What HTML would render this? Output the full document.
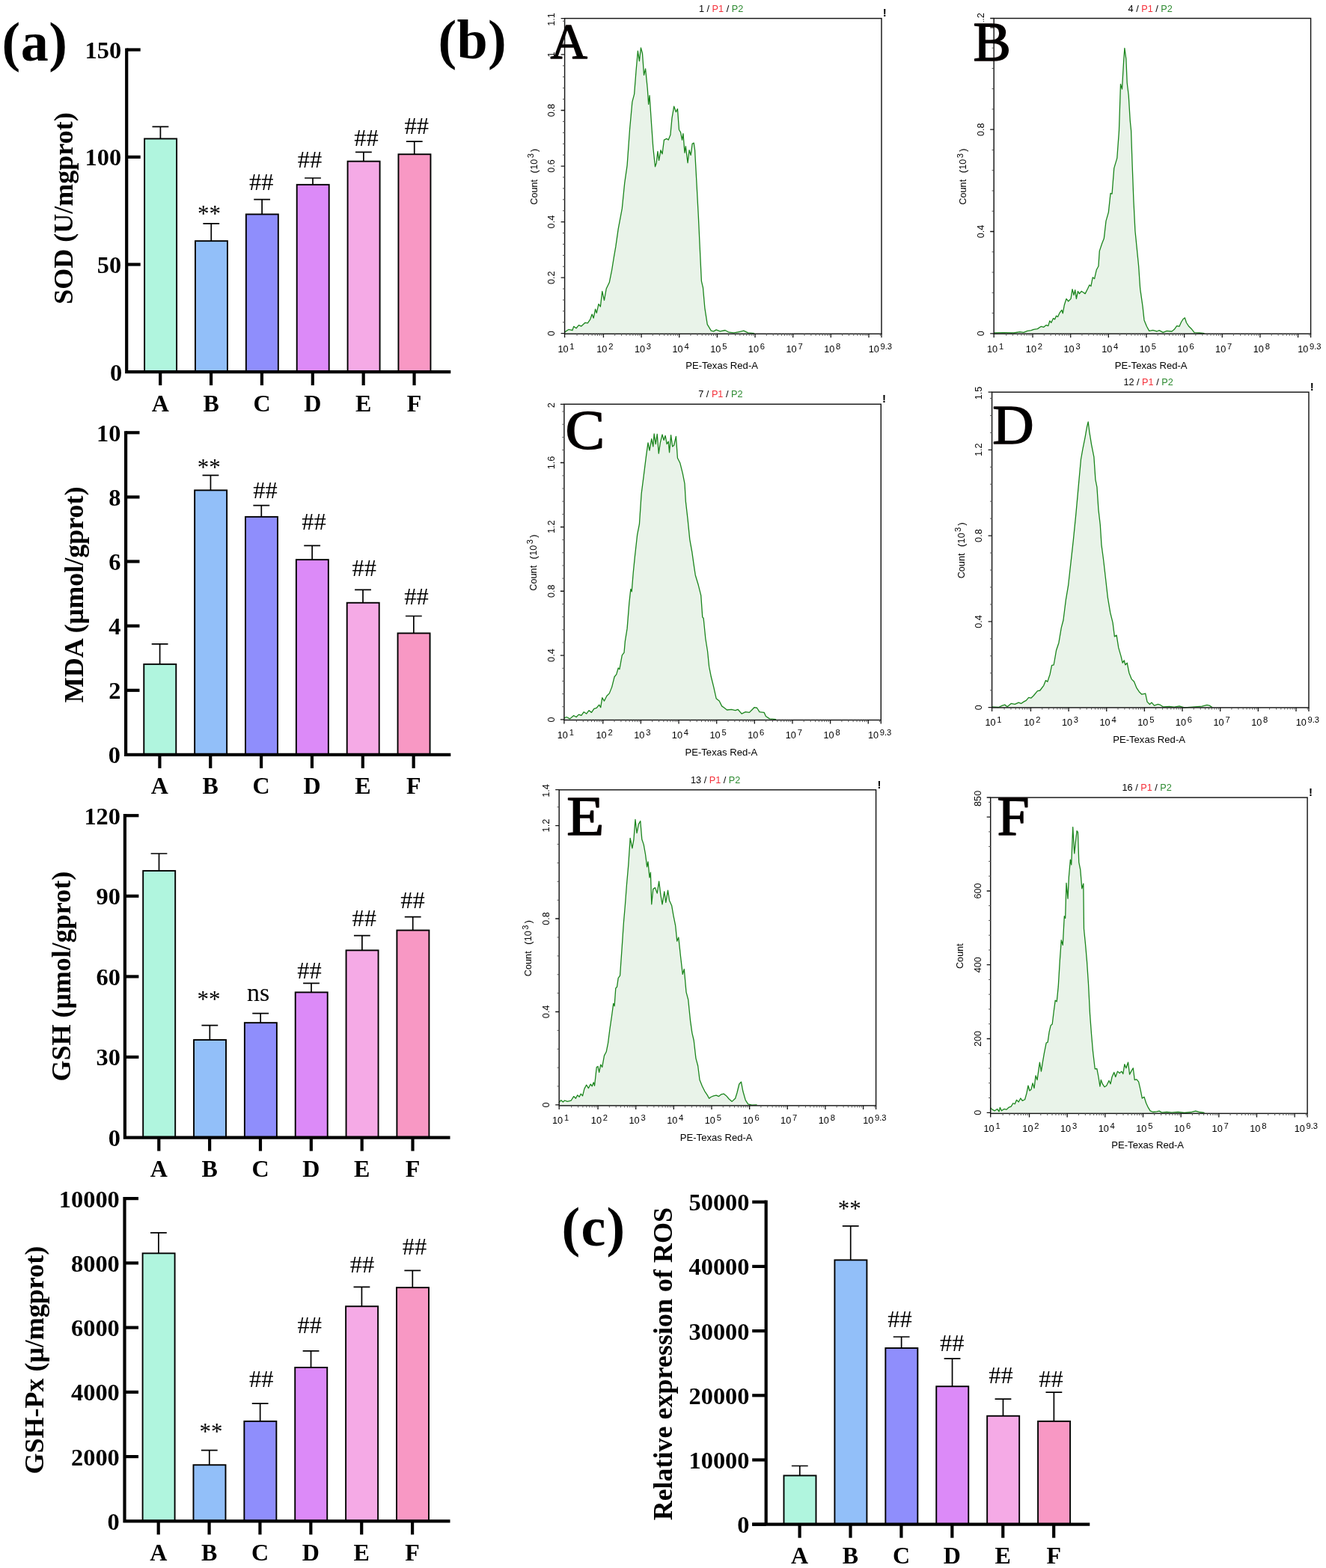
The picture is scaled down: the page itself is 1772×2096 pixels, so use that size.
<!DOCTYPE html>
<html lang="en"><head><meta charset="utf-8"><title>Figure</title>
<style>html,body{margin:0;padding:0;background:#fff}body{width:1772px;height:2096px;overflow:hidden}svg{display:block}text{fill:#000}</style>
</head><body>
<svg width="1772" height="2096" viewBox="0 0 1772 2096">
<rect width="1772" height="2096" fill="#fff"/>
<g><path d="M754.76 446.3 L754.76 443.88 L759.86 440.48 L764.97 441.5 L766.67 436.39 L770.07 438.78 L773.47 434.69 L776.87 436.05 L781.97 431.29 L785.37 431.97 L788.78 426.87 L791.16 420.07 L793.2 425.17 L795.58 413.27 L797.28 418.37 L800 406.46 L802.38 409.86 L804.76 389.46 L807.48 401.36 L810.2 386.05 L814.29 377.55 L817.69 360.54 L820.41 343.54 L822.79 329.93 L826.19 306.12 L831.29 278.91 L834.69 244.9 L838.1 221.09 L841.5 173.47 L844.9 136.05 L847.62 125.85 L850 95.24 L852.38 68.03 L854.42 81.63 L856.46 63.95 L858.5 71.43 L860.54 100.34 L862.59 91.84 L865.31 119.05 L866.67 139.46 L868.03 127.55 L870.41 163.27 L872.79 197.28 L875.51 222.79 L877.21 217.69 L878.91 202.38 L880.61 214.29 L882.99 200.68 L885.03 205.78 L887.41 187.07 L890.82 185.37 L893.2 187.07 L895.92 180.27 L897.96 158.16 L900.68 142.18 L903.4 149.66 L905.44 145.58 L907.48 173.47 L909.52 176.87 L911.56 187.07 L912.93 178.57 L914.97 204.08 L916.33 195.58 L919.05 217.69 L921.09 200.68 L923.13 207.48 L925.17 192.18 L927.21 191.16 L928.57 200.68 L930.61 238.1 L933.33 289.12 L935.37 333.33 L937.41 375.85 L939.46 384.35 L941.84 411.56 L945.24 433.67 L950.34 442.18 L953.74 442.86 L957.14 440.82 L962.24 442.86 L969.05 441.5 L974.15 444.22 L980.95 444.9 L987.76 443.54 L993.88 442.18 L999.66 444.9 L1008.16 445.58 L1008.16 446.3Z" fill="#e9f3e9" stroke="none"/>
<path d="M754.76 443.88 L759.86 440.48 L764.97 441.5 L766.67 436.39 L770.07 438.78 L773.47 434.69 L776.87 436.05 L781.97 431.29 L785.37 431.97 L788.78 426.87 L791.16 420.07 L793.2 425.17 L795.58 413.27 L797.28 418.37 L800 406.46 L802.38 409.86 L804.76 389.46 L807.48 401.36 L810.2 386.05 L814.29 377.55 L817.69 360.54 L820.41 343.54 L822.79 329.93 L826.19 306.12 L831.29 278.91 L834.69 244.9 L838.1 221.09 L841.5 173.47 L844.9 136.05 L847.62 125.85 L850 95.24 L852.38 68.03 L854.42 81.63 L856.46 63.95 L858.5 71.43 L860.54 100.34 L862.59 91.84 L865.31 119.05 L866.67 139.46 L868.03 127.55 L870.41 163.27 L872.79 197.28 L875.51 222.79 L877.21 217.69 L878.91 202.38 L880.61 214.29 L882.99 200.68 L885.03 205.78 L887.41 187.07 L890.82 185.37 L893.2 187.07 L895.92 180.27 L897.96 158.16 L900.68 142.18 L903.4 149.66 L905.44 145.58 L907.48 173.47 L909.52 176.87 L911.56 187.07 L912.93 178.57 L914.97 204.08 L916.33 195.58 L919.05 217.69 L921.09 200.68 L923.13 207.48 L925.17 192.18 L927.21 191.16 L928.57 200.68 L930.61 238.1 L933.33 289.12 L935.37 333.33 L937.41 375.85 L939.46 384.35 L941.84 411.56 L945.24 433.67 L950.34 442.18 L953.74 442.86 L957.14 440.82 L962.24 442.86 L969.05 441.5 L974.15 444.22 L980.95 444.9 L987.76 443.54 L993.88 442.18 L999.66 444.9 L1008.16 445.58" fill="none" stroke="#1b851d" stroke-width="1.3" stroke-linejoin="round"/>
<rect x="754.6" y="24.6" width="423.4" height="421.7" fill="none" stroke="#161616" stroke-width="1.45"/>
<text x="745.4" y="470.7" font-family='"Liberation Sans", "DejaVu Sans", sans-serif' font-size="12.7" fill="#4c4c4c">10<tspan dy="-4.1" dx="1.8" font-size="11.2">1</tspan></text>
<text x="797.25" y="470.7" font-family='"Liberation Sans", "DejaVu Sans", sans-serif' font-size="12.7" fill="#4c4c4c">10<tspan dy="-4.1" dx="1.8" font-size="11.2">2</tspan></text>
<text x="847.9" y="470.7" font-family='"Liberation Sans", "DejaVu Sans", sans-serif' font-size="12.7" fill="#4c4c4c">10<tspan dy="-4.1" dx="1.8" font-size="11.2">3</tspan></text>
<text x="898.55" y="470.7" font-family='"Liberation Sans", "DejaVu Sans", sans-serif' font-size="12.7" fill="#4c4c4c">10<tspan dy="-4.1" dx="1.8" font-size="11.2">4</tspan></text>
<text x="949.2" y="470.7" font-family='"Liberation Sans", "DejaVu Sans", sans-serif' font-size="12.7" fill="#4c4c4c">10<tspan dy="-4.1" dx="1.8" font-size="11.2">5</tspan></text>
<text x="999.85" y="470.7" font-family='"Liberation Sans", "DejaVu Sans", sans-serif' font-size="12.7" fill="#4c4c4c">10<tspan dy="-4.1" dx="1.8" font-size="11.2">6</tspan></text>
<text x="1050.5" y="470.7" font-family='"Liberation Sans", "DejaVu Sans", sans-serif' font-size="12.7" fill="#4c4c4c">10<tspan dy="-4.1" dx="1.8" font-size="11.2">7</tspan></text>
<text x="1101.15" y="470.7" font-family='"Liberation Sans", "DejaVu Sans", sans-serif' font-size="12.7" fill="#4c4c4c">10<tspan dy="-4.1" dx="1.8" font-size="11.2">8</tspan></text>
<text x="1160.7" y="470.7" font-family='"Liberation Sans", "DejaVu Sans", sans-serif' font-size="12.7" fill="#4c4c4c">10<tspan dy="-4.1" dx="1.6" font-size="11.2">9.3</tspan></text>
<text transform="translate(741.4 26) rotate(-90)" text-anchor="middle" font-family='"Liberation Sans", "DejaVu Sans", sans-serif' font-size="12.7" fill="#4c4c4c">1.1</text>
<text transform="translate(741.4 72.95) rotate(-90)" text-anchor="middle" font-family='"Liberation Sans", "DejaVu Sans", sans-serif' font-size="12.7" fill="#4c4c4c">1</text>
<text transform="translate(741.4 147.5) rotate(-90)" text-anchor="middle" font-family='"Liberation Sans", "DejaVu Sans", sans-serif' font-size="12.7" fill="#4c4c4c">0.8</text>
<text transform="translate(741.4 222.05) rotate(-90)" text-anchor="middle" font-family='"Liberation Sans", "DejaVu Sans", sans-serif' font-size="12.7" fill="#4c4c4c">0.6</text>
<text transform="translate(741.4 296.6) rotate(-90)" text-anchor="middle" font-family='"Liberation Sans", "DejaVu Sans", sans-serif' font-size="12.7" fill="#4c4c4c">0.4</text>
<text transform="translate(741.4 371.15) rotate(-90)" text-anchor="middle" font-family='"Liberation Sans", "DejaVu Sans", sans-serif' font-size="12.7" fill="#4c4c4c">0.2</text>
<text transform="translate(741.4 445.7) rotate(-90)" text-anchor="middle" font-family='"Liberation Sans", "DejaVu Sans", sans-serif' font-size="12.7" fill="#4c4c4c">0</text>
<path d="M754.6 446.3v5M806.45 446.3v5M857.1 446.3v5M907.75 446.3v5M958.4 446.3v5M1009.05 446.3v5M1059.7 446.3v5M1110.35 446.3v5M1161 446.3v5M1178 446.3v5M754.6 24.6h-5M754.6 72.95h-5M754.6 147.5h-5M754.6 222.05h-5M754.6 296.6h-5M754.6 371.15h-5M754.6 445.7h-5M754.6 371.15h-5M754.6 296.6h-5M754.6 222.05h-5M754.6 147.5h-5M754.6 72.95h-5" stroke="#161616" stroke-width="1.3" fill="none"/>
<path d="M771.05 446.3v2.6M779.97 446.3v2.6M786.29 446.3v2.6M791.2 446.3v2.6M795.21 446.3v2.6M798.6 446.3v2.6M801.54 446.3v2.6M804.13 446.3v2.6M821.7 446.3v2.6M830.62 446.3v2.6M836.94 446.3v2.6M841.85 446.3v2.6M845.86 446.3v2.6M849.25 446.3v2.6M852.19 446.3v2.6M854.78 446.3v2.6M872.35 446.3v2.6M881.27 446.3v2.6M887.59 446.3v2.6M892.5 446.3v2.6M896.51 446.3v2.6M899.9 446.3v2.6M902.84 446.3v2.6M905.43 446.3v2.6M923 446.3v2.6M931.92 446.3v2.6M938.24 446.3v2.6M943.15 446.3v2.6M947.16 446.3v2.6M950.55 446.3v2.6M953.49 446.3v2.6M956.08 446.3v2.6M973.65 446.3v2.6M982.57 446.3v2.6M988.89 446.3v2.6M993.8 446.3v2.6M997.81 446.3v2.6M1001.2 446.3v2.6M1004.14 446.3v2.6M1006.73 446.3v2.6M1024.3 446.3v2.6M1033.22 446.3v2.6M1039.54 446.3v2.6M1044.45 446.3v2.6M1048.46 446.3v2.6M1051.85 446.3v2.6M1054.79 446.3v2.6M1057.38 446.3v2.6M1074.95 446.3v2.6M1083.87 446.3v2.6M1090.19 446.3v2.6M1095.1 446.3v2.6M1099.11 446.3v2.6M1102.5 446.3v2.6M1105.44 446.3v2.6M1108.03 446.3v2.6M1125.6 446.3v2.6M1134.52 446.3v2.6M1140.84 446.3v2.6M1145.75 446.3v2.6M1149.76 446.3v2.6M1153.15 446.3v2.6M1156.09 446.3v2.6M1158.68 446.3v2.6M1176.25 446.3v2.6M754.6 430.79h-2.6M754.6 415.88h-2.6M754.6 400.97h-2.6M754.6 386.06h-2.6M754.6 356.24h-2.6M754.6 341.33h-2.6M754.6 326.42h-2.6M754.6 311.51h-2.6M754.6 281.69h-2.6M754.6 266.78h-2.6M754.6 251.87h-2.6M754.6 236.96h-2.6M754.6 207.14h-2.6M754.6 192.23h-2.6M754.6 177.32h-2.6M754.6 162.41h-2.6M754.6 132.59h-2.6M754.6 117.68h-2.6M754.6 102.77h-2.6M754.6 87.86h-2.6M754.6 58.04h-2.6M754.6 43.13h-2.6M754.6 28.22h-2.6" stroke="#555" stroke-width="1" fill="none"/>
<text x="964.6" y="493.3" text-anchor="middle" font-family='"Liberation Sans", "DejaVu Sans", sans-serif' font-size="13.1" fill="#4c4c4c">PE-Texas Red-A</text>
<text transform="translate(717.8 273.75) rotate(-90)" font-family='"Liberation Sans", "DejaVu Sans", sans-serif' font-size="12.7" fill="#4c4c4c">Count <tspan dx="4.9">(</tspan><tspan dx="0.4">10</tspan><tspan dy="-4.7" dx="1.35" font-size="11.2">3</tspan><tspan dy="4.7" dx="2.25">)</tspan></text>
<text x="963.6" y="15.6" text-anchor="middle" font-family='"Liberation Sans", "DejaVu Sans", sans-serif' font-size="12.7" fill="#4c4c4c">1 / <tspan fill="#f5303a">P1</tspan> / <tspan fill="#2e8b32">P2</tspan></text>
<text x="1182.3" y="22.3" text-anchor="middle" font-family='"Liberation Sans", "DejaVu Sans", sans-serif' font-weight="bold" font-size="15" fill="#111">!</text>
<text transform="translate(735.55 78.4) scale(1 1)" font-family='"Liberation Serif", "DejaVu Serif", serif' font-size="68.5" stroke="#0a0202" stroke-width="1.4" stroke-linejoin="round" fill="#0a0202">A</text></g>
<g><path d="M1328.34 446.2 L1328.34 445.01 L1341.09 444.67 L1354.51 445.01 L1362.9 443.66 L1367.94 444.34 L1372.97 442.32 L1378 441.65 L1381.36 440.31 L1386.39 439.64 L1391.43 436.28 L1394.78 437.29 L1398.14 434.6 L1400.83 435.61 L1402.84 428.9 L1404.85 431.25 L1407.54 425.54 L1409.55 426.88 L1411.56 422.19 L1413.58 423.53 L1416.26 417.82 L1418.95 414.47 L1420.29 418.83 L1422.3 407.76 L1424.99 399.37 L1427.67 402.72 L1431.03 399.37 L1433.04 386.61 L1435.06 394.33 L1436.73 387.62 L1438.41 399.37 L1440.43 389.3 L1442.44 392.65 L1445.12 389.3 L1447.81 390.98 L1450.16 392.65 L1453.51 385.94 L1455.86 380.91 L1457.88 382.59 L1460.23 370.84 L1462.58 372.52 L1465.26 360.77 L1467.95 355.74 L1469.29 335.6 L1472.64 325.53 L1475.33 318.82 L1478.01 295.33 L1481.37 283.58 L1484.05 258.41 L1486.07 259.08 L1488.75 224.85 L1492.78 211.43 L1495.46 174.51 L1497.48 112.43 L1499.49 119.14 L1501.51 83.9 L1502.85 64.44 L1504.86 78.87 L1506.2 110.75 L1508.22 127.53 L1510.23 161.09 L1511.57 174.51 L1512.92 214.78 L1514.93 268.48 L1516.94 308.75 L1518.96 328.89 L1521.64 355.74 L1523.66 385.94 L1527.01 409.43 L1529.02 427.89 L1532.38 436.28 L1535.74 442.32 L1540.77 441.32 L1545.8 442.99 L1549.16 441.65 L1554.2 444.34 L1559.23 442.32 L1565.94 442.99 L1569.3 440.31 L1572.65 435.61 L1576.01 436.28 L1578.69 430.24 L1581.38 426.21 L1583.39 424.87 L1585.41 431.25 L1588.76 436.28 L1592.79 440.31 L1596.15 444.67 L1602.86 445.01 L1609.57 445.68 L1609.57 446.2Z" fill="#e9f3e9" stroke="none"/>
<path d="M1328.34 445.01 L1341.09 444.67 L1354.51 445.01 L1362.9 443.66 L1367.94 444.34 L1372.97 442.32 L1378 441.65 L1381.36 440.31 L1386.39 439.64 L1391.43 436.28 L1394.78 437.29 L1398.14 434.6 L1400.83 435.61 L1402.84 428.9 L1404.85 431.25 L1407.54 425.54 L1409.55 426.88 L1411.56 422.19 L1413.58 423.53 L1416.26 417.82 L1418.95 414.47 L1420.29 418.83 L1422.3 407.76 L1424.99 399.37 L1427.67 402.72 L1431.03 399.37 L1433.04 386.61 L1435.06 394.33 L1436.73 387.62 L1438.41 399.37 L1440.43 389.3 L1442.44 392.65 L1445.12 389.3 L1447.81 390.98 L1450.16 392.65 L1453.51 385.94 L1455.86 380.91 L1457.88 382.59 L1460.23 370.84 L1462.58 372.52 L1465.26 360.77 L1467.95 355.74 L1469.29 335.6 L1472.64 325.53 L1475.33 318.82 L1478.01 295.33 L1481.37 283.58 L1484.05 258.41 L1486.07 259.08 L1488.75 224.85 L1492.78 211.43 L1495.46 174.51 L1497.48 112.43 L1499.49 119.14 L1501.51 83.9 L1502.85 64.44 L1504.86 78.87 L1506.2 110.75 L1508.22 127.53 L1510.23 161.09 L1511.57 174.51 L1512.92 214.78 L1514.93 268.48 L1516.94 308.75 L1518.96 328.89 L1521.64 355.74 L1523.66 385.94 L1527.01 409.43 L1529.02 427.89 L1532.38 436.28 L1535.74 442.32 L1540.77 441.32 L1545.8 442.99 L1549.16 441.65 L1554.2 444.34 L1559.23 442.32 L1565.94 442.99 L1569.3 440.31 L1572.65 435.61 L1576.01 436.28 L1578.69 430.24 L1581.38 426.21 L1583.39 424.87 L1585.41 431.25 L1588.76 436.28 L1592.79 440.31 L1596.15 444.67 L1602.86 445.01 L1609.57 445.68" fill="none" stroke="#1b851d" stroke-width="1.3" stroke-linejoin="round"/>
<rect x="1328.2" y="24.5" width="423.4" height="421.7" fill="none" stroke="#161616" stroke-width="1.45"/>
<text x="1319" y="470.6" font-family='"Liberation Sans", "DejaVu Sans", sans-serif' font-size="12.7" fill="#4c4c4c">10<tspan dy="-4.1" dx="1.8" font-size="11.2">1</tspan></text>
<text x="1370.85" y="470.6" font-family='"Liberation Sans", "DejaVu Sans", sans-serif' font-size="12.7" fill="#4c4c4c">10<tspan dy="-4.1" dx="1.8" font-size="11.2">2</tspan></text>
<text x="1421.5" y="470.6" font-family='"Liberation Sans", "DejaVu Sans", sans-serif' font-size="12.7" fill="#4c4c4c">10<tspan dy="-4.1" dx="1.8" font-size="11.2">3</tspan></text>
<text x="1472.15" y="470.6" font-family='"Liberation Sans", "DejaVu Sans", sans-serif' font-size="12.7" fill="#4c4c4c">10<tspan dy="-4.1" dx="1.8" font-size="11.2">4</tspan></text>
<text x="1522.8" y="470.6" font-family='"Liberation Sans", "DejaVu Sans", sans-serif' font-size="12.7" fill="#4c4c4c">10<tspan dy="-4.1" dx="1.8" font-size="11.2">5</tspan></text>
<text x="1573.45" y="470.6" font-family='"Liberation Sans", "DejaVu Sans", sans-serif' font-size="12.7" fill="#4c4c4c">10<tspan dy="-4.1" dx="1.8" font-size="11.2">6</tspan></text>
<text x="1624.1" y="470.6" font-family='"Liberation Sans", "DejaVu Sans", sans-serif' font-size="12.7" fill="#4c4c4c">10<tspan dy="-4.1" dx="1.8" font-size="11.2">7</tspan></text>
<text x="1674.75" y="470.6" font-family='"Liberation Sans", "DejaVu Sans", sans-serif' font-size="12.7" fill="#4c4c4c">10<tspan dy="-4.1" dx="1.8" font-size="11.2">8</tspan></text>
<text x="1734.3" y="470.6" font-family='"Liberation Sans", "DejaVu Sans", sans-serif' font-size="12.7" fill="#4c4c4c">10<tspan dy="-4.1" dx="1.6" font-size="11.2">9.3</tspan></text>
<text transform="translate(1315 25.9) rotate(-90)" text-anchor="middle" font-family='"Liberation Sans", "DejaVu Sans", sans-serif' font-size="12.7" fill="#4c4c4c">1.2</text>
<text transform="translate(1315 173.2) rotate(-90)" text-anchor="middle" font-family='"Liberation Sans", "DejaVu Sans", sans-serif' font-size="12.7" fill="#4c4c4c">0.8</text>
<text transform="translate(1315 309.5) rotate(-90)" text-anchor="middle" font-family='"Liberation Sans", "DejaVu Sans", sans-serif' font-size="12.7" fill="#4c4c4c">0.4</text>
<text transform="translate(1315 445.8) rotate(-90)" text-anchor="middle" font-family='"Liberation Sans", "DejaVu Sans", sans-serif' font-size="12.7" fill="#4c4c4c">0</text>
<path d="M1328.2 446.2v5M1380.05 446.2v5M1430.7 446.2v5M1481.35 446.2v5M1532 446.2v5M1582.65 446.2v5M1633.3 446.2v5M1683.95 446.2v5M1734.6 446.2v5M1751.6 446.2v5M1328.2 24.5h-5M1328.2 173.2h-5M1328.2 309.5h-5M1328.2 445.8h-5M1328.2 309.5h-5M1328.2 173.2h-5M1328.2 36.9h-5" stroke="#161616" stroke-width="1.3" fill="none"/>
<path d="M1344.65 446.2v2.6M1353.57 446.2v2.6M1359.89 446.2v2.6M1364.8 446.2v2.6M1368.81 446.2v2.6M1372.2 446.2v2.6M1375.14 446.2v2.6M1377.73 446.2v2.6M1395.3 446.2v2.6M1404.22 446.2v2.6M1410.54 446.2v2.6M1415.45 446.2v2.6M1419.46 446.2v2.6M1422.85 446.2v2.6M1425.79 446.2v2.6M1428.38 446.2v2.6M1445.95 446.2v2.6M1454.87 446.2v2.6M1461.19 446.2v2.6M1466.1 446.2v2.6M1470.11 446.2v2.6M1473.5 446.2v2.6M1476.44 446.2v2.6M1479.03 446.2v2.6M1496.6 446.2v2.6M1505.52 446.2v2.6M1511.84 446.2v2.6M1516.75 446.2v2.6M1520.76 446.2v2.6M1524.15 446.2v2.6M1527.09 446.2v2.6M1529.68 446.2v2.6M1547.25 446.2v2.6M1556.17 446.2v2.6M1562.49 446.2v2.6M1567.4 446.2v2.6M1571.41 446.2v2.6M1574.8 446.2v2.6M1577.74 446.2v2.6M1580.33 446.2v2.6M1597.9 446.2v2.6M1606.82 446.2v2.6M1613.14 446.2v2.6M1618.05 446.2v2.6M1622.06 446.2v2.6M1625.45 446.2v2.6M1628.39 446.2v2.6M1630.98 446.2v2.6M1648.55 446.2v2.6M1657.47 446.2v2.6M1663.79 446.2v2.6M1668.7 446.2v2.6M1672.71 446.2v2.6M1676.1 446.2v2.6M1679.04 446.2v2.6M1681.63 446.2v2.6M1699.2 446.2v2.6M1708.12 446.2v2.6M1714.44 446.2v2.6M1719.35 446.2v2.6M1723.36 446.2v2.6M1726.75 446.2v2.6M1729.69 446.2v2.6M1732.28 446.2v2.6M1749.85 446.2v2.6M1328.2 418.54h-2.6M1328.2 391.28h-2.6M1328.2 364.02h-2.6M1328.2 336.76h-2.6M1328.2 282.24h-2.6M1328.2 254.98h-2.6M1328.2 227.72h-2.6M1328.2 200.46h-2.6M1328.2 145.94h-2.6M1328.2 118.68h-2.6M1328.2 91.42h-2.6M1328.2 64.16h-2.6" stroke="#555" stroke-width="1" fill="none"/>
<text x="1538.2" y="493.2" text-anchor="middle" font-family='"Liberation Sans", "DejaVu Sans", sans-serif' font-size="13.1" fill="#4c4c4c">PE-Texas Red-A</text>
<text transform="translate(1291.4 273.65) rotate(-90)" font-family='"Liberation Sans", "DejaVu Sans", sans-serif' font-size="12.7" fill="#4c4c4c">Count <tspan dx="4.9">(</tspan><tspan dx="0.4">10</tspan><tspan dy="-4.7" dx="1.35" font-size="11.2">3</tspan><tspan dy="4.7" dx="2.25">)</tspan></text>
<text x="1537.2" y="15.5" text-anchor="middle" font-family='"Liberation Sans", "DejaVu Sans", sans-serif' font-size="12.7" fill="#4c4c4c">4 / <tspan fill="#f5303a">P1</tspan> / <tspan fill="#2e8b32">P2</tspan></text>
<rect x="1305" y="29.3" width="13.5" height="5" fill="#fff"/>
<text transform="translate(1300.5 81.1) scale(1.015 1)" font-family='"Liberation Serif", "DejaVu Serif", serif' font-size="74.5" stroke="#0a0202" stroke-width="1.5" stroke-linejoin="round" fill="#0a0202">B</text></g>
<g><path d="M753.74 962.5 L753.74 959.86 L757.14 958.5 L761.56 960.88 L766.67 956.46 L770.07 958.5 L773.47 955.1 L776.87 956.46 L780.27 951.7 L783.67 954.08 L787.07 949.66 L790.48 952.38 L793.88 947.28 L797.28 946.26 L800.68 942.18 L802.72 945.58 L804.76 932.65 L807.48 937.07 L810.88 930.27 L814.29 926.87 L817.69 918.37 L821.09 904.76 L823.81 901.36 L826.19 892.86 L827.89 894.56 L831.29 875.85 L834.01 872.45 L835.37 857.14 L838.1 840.14 L840.82 806.12 L842.86 787.41 L844.22 790.82 L846.26 765.31 L848.3 744.9 L851.7 714.29 L854.42 700.68 L857.14 659.86 L860.2 636.05 L863.61 608.84 L865.99 591.84 L868.03 602.04 L870.75 586.73 L872.79 596.94 L874.15 579.93 L876.19 593.54 L878.23 580.27 L880.27 606.12 L882.31 591.84 L885.03 580.95 L887.07 588.44 L889.12 582.31 L891.16 593.54 L893.2 590.14 L894.56 604.76 L896.6 581.63 L898.64 596.94 L900.68 595.24 L903.4 583.33 L905.44 612.24 L908.84 619.05 L912.24 632.65 L914.97 646.26 L916.33 670.07 L919.05 693.88 L921.77 721.09 L924.83 738.1 L927.21 755.1 L929.25 768.71 L933.33 782.31 L936.73 795.92 L938.78 824.83 L940.14 826.53 L942.86 853.74 L945.58 870.75 L947.62 891.16 L950.34 904.76 L953.74 918.37 L957.14 933.67 L961.22 937.07 L964.63 943.88 L968.03 946.26 L971.43 948.98 L977.55 948.3 L982.65 949.66 L986.05 948.3 L991.16 954.08 L996.26 951.7 L1001.36 952.38 L1004.76 948.98 L1008.16 945.58 L1011.56 946.26 L1014.97 951.7 L1021.09 952.38 L1023.47 957.48 L1028.57 960.88 L1037.07 961.56 L1037.07 962.5Z" fill="#e9f3e9" stroke="none"/>
<path d="M753.74 959.86 L757.14 958.5 L761.56 960.88 L766.67 956.46 L770.07 958.5 L773.47 955.1 L776.87 956.46 L780.27 951.7 L783.67 954.08 L787.07 949.66 L790.48 952.38 L793.88 947.28 L797.28 946.26 L800.68 942.18 L802.72 945.58 L804.76 932.65 L807.48 937.07 L810.88 930.27 L814.29 926.87 L817.69 918.37 L821.09 904.76 L823.81 901.36 L826.19 892.86 L827.89 894.56 L831.29 875.85 L834.01 872.45 L835.37 857.14 L838.1 840.14 L840.82 806.12 L842.86 787.41 L844.22 790.82 L846.26 765.31 L848.3 744.9 L851.7 714.29 L854.42 700.68 L857.14 659.86 L860.2 636.05 L863.61 608.84 L865.99 591.84 L868.03 602.04 L870.75 586.73 L872.79 596.94 L874.15 579.93 L876.19 593.54 L878.23 580.27 L880.27 606.12 L882.31 591.84 L885.03 580.95 L887.07 588.44 L889.12 582.31 L891.16 593.54 L893.2 590.14 L894.56 604.76 L896.6 581.63 L898.64 596.94 L900.68 595.24 L903.4 583.33 L905.44 612.24 L908.84 619.05 L912.24 632.65 L914.97 646.26 L916.33 670.07 L919.05 693.88 L921.77 721.09 L924.83 738.1 L927.21 755.1 L929.25 768.71 L933.33 782.31 L936.73 795.92 L938.78 824.83 L940.14 826.53 L942.86 853.74 L945.58 870.75 L947.62 891.16 L950.34 904.76 L953.74 918.37 L957.14 933.67 L961.22 937.07 L964.63 943.88 L968.03 946.26 L971.43 948.98 L977.55 948.3 L982.65 949.66 L986.05 948.3 L991.16 954.08 L996.26 951.7 L1001.36 952.38 L1004.76 948.98 L1008.16 945.58 L1011.56 946.26 L1014.97 951.7 L1021.09 952.38 L1023.47 957.48 L1028.57 960.88 L1037.07 961.56" fill="none" stroke="#1b851d" stroke-width="1.3" stroke-linejoin="round"/>
<rect x="753.9" y="540.3" width="423.4" height="422.2" fill="none" stroke="#161616" stroke-width="1.45"/>
<text x="744.7" y="986.9" font-family='"Liberation Sans", "DejaVu Sans", sans-serif' font-size="12.7" fill="#4c4c4c">10<tspan dy="-4.1" dx="1.8" font-size="11.2">1</tspan></text>
<text x="796.55" y="986.9" font-family='"Liberation Sans", "DejaVu Sans", sans-serif' font-size="12.7" fill="#4c4c4c">10<tspan dy="-4.1" dx="1.8" font-size="11.2">2</tspan></text>
<text x="847.2" y="986.9" font-family='"Liberation Sans", "DejaVu Sans", sans-serif' font-size="12.7" fill="#4c4c4c">10<tspan dy="-4.1" dx="1.8" font-size="11.2">3</tspan></text>
<text x="897.85" y="986.9" font-family='"Liberation Sans", "DejaVu Sans", sans-serif' font-size="12.7" fill="#4c4c4c">10<tspan dy="-4.1" dx="1.8" font-size="11.2">4</tspan></text>
<text x="948.5" y="986.9" font-family='"Liberation Sans", "DejaVu Sans", sans-serif' font-size="12.7" fill="#4c4c4c">10<tspan dy="-4.1" dx="1.8" font-size="11.2">5</tspan></text>
<text x="999.15" y="986.9" font-family='"Liberation Sans", "DejaVu Sans", sans-serif' font-size="12.7" fill="#4c4c4c">10<tspan dy="-4.1" dx="1.8" font-size="11.2">6</tspan></text>
<text x="1049.8" y="986.9" font-family='"Liberation Sans", "DejaVu Sans", sans-serif' font-size="12.7" fill="#4c4c4c">10<tspan dy="-4.1" dx="1.8" font-size="11.2">7</tspan></text>
<text x="1100.45" y="986.9" font-family='"Liberation Sans", "DejaVu Sans", sans-serif' font-size="12.7" fill="#4c4c4c">10<tspan dy="-4.1" dx="1.8" font-size="11.2">8</tspan></text>
<text x="1160" y="986.9" font-family='"Liberation Sans", "DejaVu Sans", sans-serif' font-size="12.7" fill="#4c4c4c">10<tspan dy="-4.1" dx="1.6" font-size="11.2">9.3</tspan></text>
<text transform="translate(740.7 541.7) rotate(-90)" text-anchor="middle" font-family='"Liberation Sans", "DejaVu Sans", sans-serif' font-size="12.7" fill="#4c4c4c">2</text>
<text transform="translate(740.7 618.4) rotate(-90)" text-anchor="middle" font-family='"Liberation Sans", "DejaVu Sans", sans-serif' font-size="12.7" fill="#4c4c4c">1.6</text>
<text transform="translate(740.7 704.3) rotate(-90)" text-anchor="middle" font-family='"Liberation Sans", "DejaVu Sans", sans-serif' font-size="12.7" fill="#4c4c4c">1.2</text>
<text transform="translate(740.7 790.2) rotate(-90)" text-anchor="middle" font-family='"Liberation Sans", "DejaVu Sans", sans-serif' font-size="12.7" fill="#4c4c4c">0.8</text>
<text transform="translate(740.7 876.1) rotate(-90)" text-anchor="middle" font-family='"Liberation Sans", "DejaVu Sans", sans-serif' font-size="12.7" fill="#4c4c4c">0.4</text>
<text transform="translate(740.7 961.9) rotate(-90)" text-anchor="middle" font-family='"Liberation Sans", "DejaVu Sans", sans-serif' font-size="12.7" fill="#4c4c4c">0</text>
<path d="M753.9 962.5v5M805.75 962.5v5M856.4 962.5v5M907.05 962.5v5M957.7 962.5v5M1008.35 962.5v5M1059 962.5v5M1109.65 962.5v5M1160.3 962.5v5M1177.3 962.5v5M753.9 540.3h-5M753.9 618.4h-5M753.9 704.3h-5M753.9 790.2h-5M753.9 876.1h-5M753.9 961.9h-5M753.9 876.1h-5M753.9 790.3h-5M753.9 704.5h-5M753.9 618.7h-5" stroke="#161616" stroke-width="1.3" fill="none"/>
<path d="M770.35 962.5v2.6M779.27 962.5v2.6M785.59 962.5v2.6M790.5 962.5v2.6M794.51 962.5v2.6M797.9 962.5v2.6M800.84 962.5v2.6M803.43 962.5v2.6M821 962.5v2.6M829.92 962.5v2.6M836.24 962.5v2.6M841.15 962.5v2.6M845.16 962.5v2.6M848.55 962.5v2.6M851.49 962.5v2.6M854.08 962.5v2.6M871.65 962.5v2.6M880.57 962.5v2.6M886.89 962.5v2.6M891.8 962.5v2.6M895.81 962.5v2.6M899.2 962.5v2.6M902.14 962.5v2.6M904.73 962.5v2.6M922.3 962.5v2.6M931.22 962.5v2.6M937.54 962.5v2.6M942.45 962.5v2.6M946.46 962.5v2.6M949.85 962.5v2.6M952.79 962.5v2.6M955.38 962.5v2.6M972.95 962.5v2.6M981.87 962.5v2.6M988.19 962.5v2.6M993.1 962.5v2.6M997.11 962.5v2.6M1000.5 962.5v2.6M1003.44 962.5v2.6M1006.03 962.5v2.6M1023.6 962.5v2.6M1032.52 962.5v2.6M1038.84 962.5v2.6M1043.75 962.5v2.6M1047.76 962.5v2.6M1051.15 962.5v2.6M1054.09 962.5v2.6M1056.68 962.5v2.6M1074.25 962.5v2.6M1083.17 962.5v2.6M1089.49 962.5v2.6M1094.4 962.5v2.6M1098.41 962.5v2.6M1101.8 962.5v2.6M1104.74 962.5v2.6M1107.33 962.5v2.6M1124.9 962.5v2.6M1133.82 962.5v2.6M1140.14 962.5v2.6M1145.05 962.5v2.6M1149.06 962.5v2.6M1152.45 962.5v2.6M1155.39 962.5v2.6M1157.98 962.5v2.6M1175.55 962.5v2.6M753.9 944.74h-2.6M753.9 927.58h-2.6M753.9 910.42h-2.6M753.9 893.26h-2.6M753.9 858.94h-2.6M753.9 841.78h-2.6M753.9 824.62h-2.6M753.9 807.46h-2.6M753.9 773.14h-2.6M753.9 755.98h-2.6M753.9 738.82h-2.6M753.9 721.66h-2.6M753.9 687.34h-2.6M753.9 670.18h-2.6M753.9 653.02h-2.6M753.9 635.86h-2.6M753.9 601.54h-2.6M753.9 584.38h-2.6M753.9 567.22h-2.6M753.9 550.06h-2.6" stroke="#555" stroke-width="1" fill="none"/>
<text x="963.9" y="1009.5" text-anchor="middle" font-family='"Liberation Sans", "DejaVu Sans", sans-serif' font-size="13.1" fill="#4c4c4c">PE-Texas Red-A</text>
<text transform="translate(717.1 789.7) rotate(-90)" font-family='"Liberation Sans", "DejaVu Sans", sans-serif' font-size="12.7" fill="#4c4c4c">Count <tspan dx="4.9">(</tspan><tspan dx="0.4">10</tspan><tspan dy="-4.7" dx="1.35" font-size="11.2">3</tspan><tspan dy="4.7" dx="2.25">)</tspan></text>
<text x="962.9" y="531.3" text-anchor="middle" font-family='"Liberation Sans", "DejaVu Sans", sans-serif' font-size="12.7" fill="#4c4c4c">7 / <tspan fill="#f5303a">P1</tspan> / <tspan fill="#2e8b32">P2</tspan></text>
<text x="1181.6" y="538" text-anchor="middle" font-family='"Liberation Sans", "DejaVu Sans", sans-serif' font-weight="bold" font-size="15" fill="#111">!</text>
<text transform="translate(755.5 600.4) scale(1.06 1)" font-family='"Liberation Serif", "DejaVu Serif", serif' font-size="74.5" stroke="#0a0202" stroke-width="1.5" stroke-linejoin="round" fill="#0a0202">C</text></g>
<g><path d="M1324.98 945.9 L1324.98 944.81 L1334.38 945.48 L1339.41 943.13 L1342.77 942.12 L1346.12 944.81 L1351.16 940.44 L1356.19 941.45 L1361.22 939.1 L1364.58 940.44 L1367.94 938.1 L1371.29 936.42 L1374.65 932.39 L1378 933.06 L1381.36 929.71 L1386.39 923.66 L1389.75 922.99 L1394.78 916.28 L1397.47 909.57 L1399.82 911.25 L1403.17 901.18 L1405.52 889.43 L1408.21 888.76 L1411.56 869.3 L1414.92 859.23 L1418.28 839.09 L1420.96 829.02 L1424.32 802.18 L1427.67 782.04 L1431.03 751.84 L1434.39 721.63 L1437.74 688.07 L1441.1 651.16 L1444.45 614.24 L1446.8 600.82 L1450.16 584.04 L1452.51 570.61 L1454.19 563.9 L1455.86 577.32 L1458.55 594.1 L1461.9 610.88 L1463.92 641.09 L1465.93 651.16 L1467.95 681.36 L1470.29 701.5 L1471.97 728.34 L1474.66 748.48 L1477.34 771.97 L1480.36 798.82 L1483.72 818.96 L1487.07 832.38 L1489.42 850.84 L1492.11 849.16 L1494.79 865.94 L1498.15 877.69 L1500.16 886.08 L1502.18 882.72 L1503.85 888.76 L1506.2 886.08 L1508.89 899.5 L1512.24 907.89 L1515.6 911.25 L1518.96 919.64 L1522.31 924.67 L1525.67 928.03 L1530.7 927.02 L1533.05 938.1 L1536.41 941.45 L1539.09 939.1 L1542.45 943.13 L1547.48 941.45 L1550.84 942.46 L1554.2 944.81 L1562.59 944.47 L1569.3 945.14 L1576.01 943.8 L1582.72 945.81 L1596.15 944.81 L1606.21 944.14 L1612.93 942.46 L1616.28 943.13 L1620.31 945.81 L1620.31 945.9Z" fill="#e9f3e9" stroke="none"/>
<path d="M1324.98 944.81 L1334.38 945.48 L1339.41 943.13 L1342.77 942.12 L1346.12 944.81 L1351.16 940.44 L1356.19 941.45 L1361.22 939.1 L1364.58 940.44 L1367.94 938.1 L1371.29 936.42 L1374.65 932.39 L1378 933.06 L1381.36 929.71 L1386.39 923.66 L1389.75 922.99 L1394.78 916.28 L1397.47 909.57 L1399.82 911.25 L1403.17 901.18 L1405.52 889.43 L1408.21 888.76 L1411.56 869.3 L1414.92 859.23 L1418.28 839.09 L1420.96 829.02 L1424.32 802.18 L1427.67 782.04 L1431.03 751.84 L1434.39 721.63 L1437.74 688.07 L1441.1 651.16 L1444.45 614.24 L1446.8 600.82 L1450.16 584.04 L1452.51 570.61 L1454.19 563.9 L1455.86 577.32 L1458.55 594.1 L1461.9 610.88 L1463.92 641.09 L1465.93 651.16 L1467.95 681.36 L1470.29 701.5 L1471.97 728.34 L1474.66 748.48 L1477.34 771.97 L1480.36 798.82 L1483.72 818.96 L1487.07 832.38 L1489.42 850.84 L1492.11 849.16 L1494.79 865.94 L1498.15 877.69 L1500.16 886.08 L1502.18 882.72 L1503.85 888.76 L1506.2 886.08 L1508.89 899.5 L1512.24 907.89 L1515.6 911.25 L1518.96 919.64 L1522.31 924.67 L1525.67 928.03 L1530.7 927.02 L1533.05 938.1 L1536.41 941.45 L1539.09 939.1 L1542.45 943.13 L1547.48 941.45 L1550.84 942.46 L1554.2 944.81 L1562.59 944.47 L1569.3 945.14 L1576.01 943.8 L1582.72 945.81 L1596.15 944.81 L1606.21 944.14 L1612.93 942.46 L1616.28 943.13 L1620.31 945.81" fill="none" stroke="#1b851d" stroke-width="1.3" stroke-linejoin="round"/>
<rect x="1325.6" y="524.2" width="423.4" height="421.7" fill="none" stroke="#161616" stroke-width="1.45"/>
<text x="1316.4" y="970.3" font-family='"Liberation Sans", "DejaVu Sans", sans-serif' font-size="12.7" fill="#4c4c4c">10<tspan dy="-4.1" dx="1.8" font-size="11.2">1</tspan></text>
<text x="1368.25" y="970.3" font-family='"Liberation Sans", "DejaVu Sans", sans-serif' font-size="12.7" fill="#4c4c4c">10<tspan dy="-4.1" dx="1.8" font-size="11.2">2</tspan></text>
<text x="1418.9" y="970.3" font-family='"Liberation Sans", "DejaVu Sans", sans-serif' font-size="12.7" fill="#4c4c4c">10<tspan dy="-4.1" dx="1.8" font-size="11.2">3</tspan></text>
<text x="1469.55" y="970.3" font-family='"Liberation Sans", "DejaVu Sans", sans-serif' font-size="12.7" fill="#4c4c4c">10<tspan dy="-4.1" dx="1.8" font-size="11.2">4</tspan></text>
<text x="1520.2" y="970.3" font-family='"Liberation Sans", "DejaVu Sans", sans-serif' font-size="12.7" fill="#4c4c4c">10<tspan dy="-4.1" dx="1.8" font-size="11.2">5</tspan></text>
<text x="1570.85" y="970.3" font-family='"Liberation Sans", "DejaVu Sans", sans-serif' font-size="12.7" fill="#4c4c4c">10<tspan dy="-4.1" dx="1.8" font-size="11.2">6</tspan></text>
<text x="1621.5" y="970.3" font-family='"Liberation Sans", "DejaVu Sans", sans-serif' font-size="12.7" fill="#4c4c4c">10<tspan dy="-4.1" dx="1.8" font-size="11.2">7</tspan></text>
<text x="1672.15" y="970.3" font-family='"Liberation Sans", "DejaVu Sans", sans-serif' font-size="12.7" fill="#4c4c4c">10<tspan dy="-4.1" dx="1.8" font-size="11.2">8</tspan></text>
<text x="1731.7" y="970.3" font-family='"Liberation Sans", "DejaVu Sans", sans-serif' font-size="12.7" fill="#4c4c4c">10<tspan dy="-4.1" dx="1.6" font-size="11.2">9.3</tspan></text>
<text transform="translate(1312.4 525.5) rotate(-90)" text-anchor="middle" font-family='"Liberation Sans", "DejaVu Sans", sans-serif' font-size="12.7" fill="#4c4c4c">1.5</text>
<text transform="translate(1312.4 601.3) rotate(-90)" text-anchor="middle" font-family='"Liberation Sans", "DejaVu Sans", sans-serif' font-size="12.7" fill="#4c4c4c">1.2</text>
<text transform="translate(1312.4 716.1) rotate(-90)" text-anchor="middle" font-family='"Liberation Sans", "DejaVu Sans", sans-serif' font-size="12.7" fill="#4c4c4c">0.8</text>
<text transform="translate(1312.4 830.9) rotate(-90)" text-anchor="middle" font-family='"Liberation Sans", "DejaVu Sans", sans-serif' font-size="12.7" fill="#4c4c4c">0.4</text>
<text transform="translate(1312.4 945.7) rotate(-90)" text-anchor="middle" font-family='"Liberation Sans", "DejaVu Sans", sans-serif' font-size="12.7" fill="#4c4c4c">0</text>
<path d="M1325.6 945.9v5M1377.45 945.9v5M1428.1 945.9v5M1478.75 945.9v5M1529.4 945.9v5M1580.05 945.9v5M1630.7 945.9v5M1681.35 945.9v5M1732 945.9v5M1749 945.9v5M1325.6 524.1h-5M1325.6 601.3h-5M1325.6 716.1h-5M1325.6 830.9h-5M1325.6 945.7h-5M1325.6 830.9h-5M1325.6 716.1h-5M1325.6 601.3h-5" stroke="#161616" stroke-width="1.3" fill="none"/>
<path d="M1342.05 945.9v2.6M1350.97 945.9v2.6M1357.29 945.9v2.6M1362.2 945.9v2.6M1366.21 945.9v2.6M1369.6 945.9v2.6M1372.54 945.9v2.6M1375.13 945.9v2.6M1392.7 945.9v2.6M1401.62 945.9v2.6M1407.94 945.9v2.6M1412.85 945.9v2.6M1416.86 945.9v2.6M1420.25 945.9v2.6M1423.19 945.9v2.6M1425.78 945.9v2.6M1443.35 945.9v2.6M1452.27 945.9v2.6M1458.59 945.9v2.6M1463.5 945.9v2.6M1467.51 945.9v2.6M1470.9 945.9v2.6M1473.84 945.9v2.6M1476.43 945.9v2.6M1494 945.9v2.6M1502.92 945.9v2.6M1509.24 945.9v2.6M1514.15 945.9v2.6M1518.16 945.9v2.6M1521.55 945.9v2.6M1524.49 945.9v2.6M1527.08 945.9v2.6M1544.65 945.9v2.6M1553.57 945.9v2.6M1559.89 945.9v2.6M1564.8 945.9v2.6M1568.81 945.9v2.6M1572.2 945.9v2.6M1575.14 945.9v2.6M1577.73 945.9v2.6M1595.3 945.9v2.6M1604.22 945.9v2.6M1610.54 945.9v2.6M1615.45 945.9v2.6M1619.46 945.9v2.6M1622.85 945.9v2.6M1625.79 945.9v2.6M1628.38 945.9v2.6M1645.95 945.9v2.6M1654.87 945.9v2.6M1661.19 945.9v2.6M1666.1 945.9v2.6M1670.11 945.9v2.6M1673.5 945.9v2.6M1676.44 945.9v2.6M1679.03 945.9v2.6M1696.6 945.9v2.6M1705.52 945.9v2.6M1711.84 945.9v2.6M1716.75 945.9v2.6M1720.76 945.9v2.6M1724.15 945.9v2.6M1727.09 945.9v2.6M1729.68 945.9v2.6M1747.25 945.9v2.6M1325.6 922.74h-2.6M1325.6 899.78h-2.6M1325.6 876.82h-2.6M1325.6 853.86h-2.6M1325.6 807.94h-2.6M1325.6 784.98h-2.6M1325.6 762.02h-2.6M1325.6 739.06h-2.6M1325.6 693.14h-2.6M1325.6 670.18h-2.6M1325.6 647.22h-2.6M1325.6 624.26h-2.6M1325.6 578.34h-2.6M1325.6 555.38h-2.6M1325.6 532.42h-2.6" stroke="#555" stroke-width="1" fill="none"/>
<text x="1535.6" y="992.9" text-anchor="middle" font-family='"Liberation Sans", "DejaVu Sans", sans-serif' font-size="13.1" fill="#4c4c4c">PE-Texas Red-A</text>
<text transform="translate(1288.8 773.35) rotate(-90)" font-family='"Liberation Sans", "DejaVu Sans", sans-serif' font-size="12.7" fill="#4c4c4c">Count <tspan dx="4.9">(</tspan><tspan dx="0.4">10</tspan><tspan dy="-4.7" dx="1.35" font-size="11.2">3</tspan><tspan dy="4.7" dx="2.25">)</tspan></text>
<text x="1534.6" y="515.2" text-anchor="middle" font-family='"Liberation Sans", "DejaVu Sans", sans-serif' font-size="12.7" fill="#4c4c4c">12 / <tspan fill="#f5303a">P1</tspan> / <tspan fill="#2e8b32">P2</tspan></text>
<text x="1753.3" y="521.9" text-anchor="middle" font-family='"Liberation Sans", "DejaVu Sans", sans-serif' font-weight="bold" font-size="15" fill="#111">!</text>
<text transform="translate(1326.3 593.3) scale(1.03 1)" font-family='"Liberation Serif", "DejaVu Serif", serif' font-size="74.5" stroke="#0a0202" stroke-width="1.5" stroke-linejoin="round" fill="#0a0202">D</text></g>
<g><path d="M746.94 1477.9 L746.94 1474.08 L749.66 1470.68 L752.38 1473.06 L754.76 1471.02 L758.16 1472.38 L763.27 1471.02 L766.67 1465.58 L769.39 1468.3 L771.77 1463.88 L774.15 1466.26 L776.19 1462.18 L778.57 1464.9 L780.95 1455.37 L783.67 1450.27 L786.39 1454.69 L789.12 1449.25 L791.16 1451.97 L793.2 1446.87 L794.56 1451.29 L797.28 1426.46 L798.98 1425.44 L800.68 1433.27 L802.72 1423.06 L804.76 1426.46 L807.48 1411.16 L810.2 1406.05 L812.59 1394.15 L814.97 1375.44 L817.69 1356.73 L819.73 1341.43 L821.09 1344.83 L822.79 1321.02 L824.49 1319.32 L826.19 1307.41 L828.57 1304.01 L831.29 1264.9 L833.33 1234.29 L835.37 1210.48 L837.41 1183.27 L839.8 1156.05 L842.18 1120.34 L844.9 1133.95 L846.94 1122.04 L848.98 1095.51 L851.02 1113.54 L853.4 1101.63 L855.78 1097.55 L857.82 1122.04 L860.2 1128.84 L862.59 1142.45 L864.63 1158.78 L865.99 1151.97 L868.03 1173.06 L869.39 1166.26 L870.75 1208.78 L872.79 1188.37 L875.51 1186.67 L878.23 1194.15 L880.61 1178.16 L882.99 1196.87 L885.03 1208.78 L887.76 1191.77 L889.8 1206.39 L892.52 1190.07 L894.56 1203.67 L897.62 1210.48 L900 1224.08 L902.72 1237.69 L904.76 1258.1 L906.8 1252.99 L909.52 1278.5 L912.24 1302.31 L914.29 1295.51 L917.01 1326.12 L919.73 1336.33 L922.45 1363.54 L924.83 1380.54 L927.21 1390.75 L929.93 1414.56 L932.65 1424.76 L935.03 1443.47 L938.44 1451.97 L941.84 1458.78 L945.24 1463.88 L947.62 1468.3 L950.34 1466.26 L953.74 1464.9 L957.14 1464.22 L960.54 1465.58 L963.95 1462.86 L967.35 1462.18 L970.75 1464.9 L974.15 1468.98 L978.23 1472.38 L982.65 1468.3 L985.03 1460.48 L987.76 1449.25 L990.48 1446.19 L992.86 1458.78 L996.26 1470.68 L999.66 1475.78 L1004.76 1477.14 L1011.56 1476.8 L1011.56 1477.9Z" fill="#e9f3e9" stroke="none"/>
<path d="M746.94 1474.08 L749.66 1470.68 L752.38 1473.06 L754.76 1471.02 L758.16 1472.38 L763.27 1471.02 L766.67 1465.58 L769.39 1468.3 L771.77 1463.88 L774.15 1466.26 L776.19 1462.18 L778.57 1464.9 L780.95 1455.37 L783.67 1450.27 L786.39 1454.69 L789.12 1449.25 L791.16 1451.97 L793.2 1446.87 L794.56 1451.29 L797.28 1426.46 L798.98 1425.44 L800.68 1433.27 L802.72 1423.06 L804.76 1426.46 L807.48 1411.16 L810.2 1406.05 L812.59 1394.15 L814.97 1375.44 L817.69 1356.73 L819.73 1341.43 L821.09 1344.83 L822.79 1321.02 L824.49 1319.32 L826.19 1307.41 L828.57 1304.01 L831.29 1264.9 L833.33 1234.29 L835.37 1210.48 L837.41 1183.27 L839.8 1156.05 L842.18 1120.34 L844.9 1133.95 L846.94 1122.04 L848.98 1095.51 L851.02 1113.54 L853.4 1101.63 L855.78 1097.55 L857.82 1122.04 L860.2 1128.84 L862.59 1142.45 L864.63 1158.78 L865.99 1151.97 L868.03 1173.06 L869.39 1166.26 L870.75 1208.78 L872.79 1188.37 L875.51 1186.67 L878.23 1194.15 L880.61 1178.16 L882.99 1196.87 L885.03 1208.78 L887.76 1191.77 L889.8 1206.39 L892.52 1190.07 L894.56 1203.67 L897.62 1210.48 L900 1224.08 L902.72 1237.69 L904.76 1258.1 L906.8 1252.99 L909.52 1278.5 L912.24 1302.31 L914.29 1295.51 L917.01 1326.12 L919.73 1336.33 L922.45 1363.54 L924.83 1380.54 L927.21 1390.75 L929.93 1414.56 L932.65 1424.76 L935.03 1443.47 L938.44 1451.97 L941.84 1458.78 L945.24 1463.88 L947.62 1468.3 L950.34 1466.26 L953.74 1464.9 L957.14 1464.22 L960.54 1465.58 L963.95 1462.86 L967.35 1462.18 L970.75 1464.9 L974.15 1468.98 L978.23 1472.38 L982.65 1468.3 L985.03 1460.48 L987.76 1449.25 L990.48 1446.19 L992.86 1458.78 L996.26 1470.68 L999.66 1475.78 L1004.76 1477.14 L1011.56 1476.8" fill="none" stroke="#1b851d" stroke-width="1.3" stroke-linejoin="round"/>
<rect x="747.2" y="1055.8" width="423.4" height="422.1" fill="none" stroke="#161616" stroke-width="1.45"/>
<text x="738" y="1502.3" font-family='"Liberation Sans", "DejaVu Sans", sans-serif' font-size="12.7" fill="#4c4c4c">10<tspan dy="-4.1" dx="1.8" font-size="11.2">1</tspan></text>
<text x="789.85" y="1502.3" font-family='"Liberation Sans", "DejaVu Sans", sans-serif' font-size="12.7" fill="#4c4c4c">10<tspan dy="-4.1" dx="1.8" font-size="11.2">2</tspan></text>
<text x="840.5" y="1502.3" font-family='"Liberation Sans", "DejaVu Sans", sans-serif' font-size="12.7" fill="#4c4c4c">10<tspan dy="-4.1" dx="1.8" font-size="11.2">3</tspan></text>
<text x="891.15" y="1502.3" font-family='"Liberation Sans", "DejaVu Sans", sans-serif' font-size="12.7" fill="#4c4c4c">10<tspan dy="-4.1" dx="1.8" font-size="11.2">4</tspan></text>
<text x="941.8" y="1502.3" font-family='"Liberation Sans", "DejaVu Sans", sans-serif' font-size="12.7" fill="#4c4c4c">10<tspan dy="-4.1" dx="1.8" font-size="11.2">5</tspan></text>
<text x="992.45" y="1502.3" font-family='"Liberation Sans", "DejaVu Sans", sans-serif' font-size="12.7" fill="#4c4c4c">10<tspan dy="-4.1" dx="1.8" font-size="11.2">6</tspan></text>
<text x="1043.1" y="1502.3" font-family='"Liberation Sans", "DejaVu Sans", sans-serif' font-size="12.7" fill="#4c4c4c">10<tspan dy="-4.1" dx="1.8" font-size="11.2">7</tspan></text>
<text x="1093.75" y="1502.3" font-family='"Liberation Sans", "DejaVu Sans", sans-serif' font-size="12.7" fill="#4c4c4c">10<tspan dy="-4.1" dx="1.8" font-size="11.2">8</tspan></text>
<text x="1153.3" y="1502.3" font-family='"Liberation Sans", "DejaVu Sans", sans-serif' font-size="12.7" fill="#4c4c4c">10<tspan dy="-4.1" dx="1.6" font-size="11.2">9.3</tspan></text>
<text transform="translate(734 1057) rotate(-90)" text-anchor="middle" font-family='"Liberation Sans", "DejaVu Sans", sans-serif' font-size="12.7" fill="#4c4c4c">1.4</text>
<text transform="translate(734 1103.6) rotate(-90)" text-anchor="middle" font-family='"Liberation Sans", "DejaVu Sans", sans-serif' font-size="12.7" fill="#4c4c4c">1.2</text>
<text transform="translate(734 1228) rotate(-90)" text-anchor="middle" font-family='"Liberation Sans", "DejaVu Sans", sans-serif' font-size="12.7" fill="#4c4c4c">0.8</text>
<text transform="translate(734 1352.5) rotate(-90)" text-anchor="middle" font-family='"Liberation Sans", "DejaVu Sans", sans-serif' font-size="12.7" fill="#4c4c4c">0.4</text>
<text transform="translate(734 1476.9) rotate(-90)" text-anchor="middle" font-family='"Liberation Sans", "DejaVu Sans", sans-serif' font-size="12.7" fill="#4c4c4c">0</text>
<path d="M747.2 1477.9v5M799.05 1477.9v5M849.7 1477.9v5M900.35 1477.9v5M951 1477.9v5M1001.65 1477.9v5M1052.3 1477.9v5M1102.95 1477.9v5M1153.6 1477.9v5M1170.6 1477.9v5M747.2 1055.6h-5M747.2 1103.6h-5M747.2 1228h-5M747.2 1352.5h-5M747.2 1476.9h-5M747.2 1352.5h-5M747.2 1228.1h-5M747.2 1103.7h-5" stroke="#161616" stroke-width="1.3" fill="none"/>
<path d="M763.65 1477.9v2.6M772.57 1477.9v2.6M778.89 1477.9v2.6M783.8 1477.9v2.6M787.81 1477.9v2.6M791.2 1477.9v2.6M794.14 1477.9v2.6M796.73 1477.9v2.6M814.3 1477.9v2.6M823.22 1477.9v2.6M829.54 1477.9v2.6M834.45 1477.9v2.6M838.46 1477.9v2.6M841.85 1477.9v2.6M844.79 1477.9v2.6M847.38 1477.9v2.6M864.95 1477.9v2.6M873.87 1477.9v2.6M880.19 1477.9v2.6M885.1 1477.9v2.6M889.11 1477.9v2.6M892.5 1477.9v2.6M895.44 1477.9v2.6M898.03 1477.9v2.6M915.6 1477.9v2.6M924.52 1477.9v2.6M930.84 1477.9v2.6M935.75 1477.9v2.6M939.76 1477.9v2.6M943.15 1477.9v2.6M946.09 1477.9v2.6M948.68 1477.9v2.6M966.25 1477.9v2.6M975.17 1477.9v2.6M981.49 1477.9v2.6M986.4 1477.9v2.6M990.41 1477.9v2.6M993.8 1477.9v2.6M996.74 1477.9v2.6M999.33 1477.9v2.6M1016.9 1477.9v2.6M1025.82 1477.9v2.6M1032.14 1477.9v2.6M1037.05 1477.9v2.6M1041.06 1477.9v2.6M1044.45 1477.9v2.6M1047.39 1477.9v2.6M1049.98 1477.9v2.6M1067.55 1477.9v2.6M1076.47 1477.9v2.6M1082.79 1477.9v2.6M1087.7 1477.9v2.6M1091.71 1477.9v2.6M1095.1 1477.9v2.6M1098.04 1477.9v2.6M1100.63 1477.9v2.6M1118.2 1477.9v2.6M1127.12 1477.9v2.6M1133.44 1477.9v2.6M1138.35 1477.9v2.6M1142.36 1477.9v2.6M1145.75 1477.9v2.6M1148.69 1477.9v2.6M1151.28 1477.9v2.6M1168.85 1477.9v2.6M747.2 1452.02h-2.6M747.2 1427.14h-2.6M747.2 1402.26h-2.6M747.2 1377.38h-2.6M747.2 1327.62h-2.6M747.2 1302.74h-2.6M747.2 1277.86h-2.6M747.2 1252.98h-2.6M747.2 1203.22h-2.6M747.2 1178.34h-2.6M747.2 1153.46h-2.6M747.2 1128.58h-2.6M747.2 1078.82h-2.6" stroke="#555" stroke-width="1" fill="none"/>
<text x="957.2" y="1524.9" text-anchor="middle" font-family='"Liberation Sans", "DejaVu Sans", sans-serif' font-size="13.1" fill="#4c4c4c">PE-Texas Red-A</text>
<text transform="translate(710.4 1305.15) rotate(-90)" font-family='"Liberation Sans", "DejaVu Sans", sans-serif' font-size="12.7" fill="#4c4c4c">Count <tspan dx="4.9">(</tspan><tspan dx="0.4">10</tspan><tspan dy="-4.7" dx="1.35" font-size="11.2">3</tspan><tspan dy="4.7" dx="2.25">)</tspan></text>
<text x="956.2" y="1046.8" text-anchor="middle" font-family='"Liberation Sans", "DejaVu Sans", sans-serif' font-size="12.7" fill="#4c4c4c">13 / <tspan fill="#f5303a">P1</tspan> / <tspan fill="#2e8b32">P2</tspan></text>
<text x="1174.9" y="1053.5" text-anchor="middle" font-family='"Liberation Sans", "DejaVu Sans", sans-serif' font-weight="bold" font-size="15" fill="#111">!</text>
<text transform="translate(757.2 1116.4) scale(1.1 1)" font-family='"Liberation Serif", "DejaVu Serif", serif' font-size="74.5" stroke="#0a0202" stroke-width="1.5" stroke-linejoin="round" fill="#0a0202">E</text></g>
<g><path d="M1323.3 1488.4 L1323.3 1480.44 L1325.99 1483.13 L1329.34 1484.81 L1332.7 1482.46 L1335.05 1485.81 L1336.39 1480.44 L1338.4 1484.81 L1341.76 1482.46 L1345.12 1483.13 L1347.8 1480.44 L1351.16 1479.1 L1353.84 1474.74 L1356.19 1475.75 L1358.54 1470.38 L1361.22 1473.06 L1363.91 1468.03 L1366.26 1471.38 L1369.61 1469.71 L1371.96 1461.32 L1373.98 1451.25 L1375.99 1457.96 L1378 1456.28 L1380.02 1447.89 L1382.03 1454.6 L1384.05 1437.82 L1386.06 1443.53 L1388.07 1429.43 L1389.41 1420.04 L1391.43 1432.12 L1393.44 1419.37 L1395.46 1407.62 L1398.14 1394.2 L1400.15 1393.19 L1402.17 1379.09 L1404.18 1370.7 L1406.2 1369.02 L1408.21 1352.24 L1410.22 1337.14 L1412.24 1338.82 L1414.25 1318.68 L1416.26 1285.12 L1418.28 1256.6 L1420.29 1263.31 L1422.3 1224.72 L1423.65 1227.4 L1424.99 1180.42 L1427 1201.22 L1428.34 1172.7 L1430.36 1149.21 L1431.7 1155.92 L1433.71 1105.58 L1435.73 1140.82 L1437.74 1122.36 L1439.08 1110.61 L1440.43 1112.29 L1441.77 1152.56 L1443.78 1162.63 L1445.8 1187.8 L1447.81 1181.09 L1448.48 1241.5 L1450.49 1261.63 L1452.51 1285.12 L1454.52 1315.33 L1456.54 1355.6 L1458.55 1382.45 L1460.56 1405.94 L1463.25 1428.76 L1465.93 1428.76 L1467.95 1439.5 L1469.96 1452.25 L1471.3 1443.53 L1473.32 1448.9 L1476 1452.93 L1478.68 1451.25 L1482.04 1444.54 L1484.05 1448.9 L1486.07 1439.5 L1488.75 1433.46 L1490.77 1439.5 L1493.45 1432.12 L1496.14 1434.47 L1498.82 1432.12 L1500.83 1435.47 L1502.85 1422.72 L1504.86 1427.76 L1507.55 1420.04 L1509.56 1436.15 L1512.24 1431.11 L1514.26 1427.76 L1516.27 1443.53 L1518.96 1442.86 L1521.64 1446.21 L1523.99 1456.28 L1526.34 1468.03 L1529.02 1466.35 L1531.71 1474.74 L1534.39 1480.44 L1537.08 1484.81 L1540.77 1486.49 L1545.8 1485.81 L1549.16 1485.14 L1552.52 1487.16 L1559.23 1486.49 L1565.94 1487.16 L1574.33 1486.49 L1582.72 1487.49 L1592.79 1486.49 L1597.82 1485.14 L1602.19 1486.49 L1609.57 1487.49 L1609.57 1488.4Z" fill="#e9f3e9" stroke="none"/>
<path d="M1323.3 1480.44 L1325.99 1483.13 L1329.34 1484.81 L1332.7 1482.46 L1335.05 1485.81 L1336.39 1480.44 L1338.4 1484.81 L1341.76 1482.46 L1345.12 1483.13 L1347.8 1480.44 L1351.16 1479.1 L1353.84 1474.74 L1356.19 1475.75 L1358.54 1470.38 L1361.22 1473.06 L1363.91 1468.03 L1366.26 1471.38 L1369.61 1469.71 L1371.96 1461.32 L1373.98 1451.25 L1375.99 1457.96 L1378 1456.28 L1380.02 1447.89 L1382.03 1454.6 L1384.05 1437.82 L1386.06 1443.53 L1388.07 1429.43 L1389.41 1420.04 L1391.43 1432.12 L1393.44 1419.37 L1395.46 1407.62 L1398.14 1394.2 L1400.15 1393.19 L1402.17 1379.09 L1404.18 1370.7 L1406.2 1369.02 L1408.21 1352.24 L1410.22 1337.14 L1412.24 1338.82 L1414.25 1318.68 L1416.26 1285.12 L1418.28 1256.6 L1420.29 1263.31 L1422.3 1224.72 L1423.65 1227.4 L1424.99 1180.42 L1427 1201.22 L1428.34 1172.7 L1430.36 1149.21 L1431.7 1155.92 L1433.71 1105.58 L1435.73 1140.82 L1437.74 1122.36 L1439.08 1110.61 L1440.43 1112.29 L1441.77 1152.56 L1443.78 1162.63 L1445.8 1187.8 L1447.81 1181.09 L1448.48 1241.5 L1450.49 1261.63 L1452.51 1285.12 L1454.52 1315.33 L1456.54 1355.6 L1458.55 1382.45 L1460.56 1405.94 L1463.25 1428.76 L1465.93 1428.76 L1467.95 1439.5 L1469.96 1452.25 L1471.3 1443.53 L1473.32 1448.9 L1476 1452.93 L1478.68 1451.25 L1482.04 1444.54 L1484.05 1448.9 L1486.07 1439.5 L1488.75 1433.46 L1490.77 1439.5 L1493.45 1432.12 L1496.14 1434.47 L1498.82 1432.12 L1500.83 1435.47 L1502.85 1422.72 L1504.86 1427.76 L1507.55 1420.04 L1509.56 1436.15 L1512.24 1431.11 L1514.26 1427.76 L1516.27 1443.53 L1518.96 1442.86 L1521.64 1446.21 L1523.99 1456.28 L1526.34 1468.03 L1529.02 1466.35 L1531.71 1474.74 L1534.39 1480.44 L1537.08 1484.81 L1540.77 1486.49 L1545.8 1485.81 L1549.16 1485.14 L1552.52 1487.16 L1559.23 1486.49 L1565.94 1487.16 L1574.33 1486.49 L1582.72 1487.49 L1592.79 1486.49 L1597.82 1485.14 L1602.19 1486.49 L1609.57 1487.49" fill="none" stroke="#1b851d" stroke-width="1.3" stroke-linejoin="round"/>
<rect x="1323.7" y="1066.1" width="423.4" height="422.3" fill="none" stroke="#161616" stroke-width="1.45"/>
<text x="1314.5" y="1512.8" font-family='"Liberation Sans", "DejaVu Sans", sans-serif' font-size="12.7" fill="#4c4c4c">10<tspan dy="-4.1" dx="1.8" font-size="11.2">1</tspan></text>
<text x="1366.35" y="1512.8" font-family='"Liberation Sans", "DejaVu Sans", sans-serif' font-size="12.7" fill="#4c4c4c">10<tspan dy="-4.1" dx="1.8" font-size="11.2">2</tspan></text>
<text x="1417" y="1512.8" font-family='"Liberation Sans", "DejaVu Sans", sans-serif' font-size="12.7" fill="#4c4c4c">10<tspan dy="-4.1" dx="1.8" font-size="11.2">3</tspan></text>
<text x="1467.65" y="1512.8" font-family='"Liberation Sans", "DejaVu Sans", sans-serif' font-size="12.7" fill="#4c4c4c">10<tspan dy="-4.1" dx="1.8" font-size="11.2">4</tspan></text>
<text x="1518.3" y="1512.8" font-family='"Liberation Sans", "DejaVu Sans", sans-serif' font-size="12.7" fill="#4c4c4c">10<tspan dy="-4.1" dx="1.8" font-size="11.2">5</tspan></text>
<text x="1568.95" y="1512.8" font-family='"Liberation Sans", "DejaVu Sans", sans-serif' font-size="12.7" fill="#4c4c4c">10<tspan dy="-4.1" dx="1.8" font-size="11.2">6</tspan></text>
<text x="1619.6" y="1512.8" font-family='"Liberation Sans", "DejaVu Sans", sans-serif' font-size="12.7" fill="#4c4c4c">10<tspan dy="-4.1" dx="1.8" font-size="11.2">7</tspan></text>
<text x="1670.25" y="1512.8" font-family='"Liberation Sans", "DejaVu Sans", sans-serif' font-size="12.7" fill="#4c4c4c">10<tspan dy="-4.1" dx="1.8" font-size="11.2">8</tspan></text>
<text x="1729.8" y="1512.8" font-family='"Liberation Sans", "DejaVu Sans", sans-serif' font-size="12.7" fill="#4c4c4c">10<tspan dy="-4.1" dx="1.6" font-size="11.2">9.3</tspan></text>
<text transform="translate(1310.5 1067.4) rotate(-90)" text-anchor="middle" font-family='"Liberation Sans", "DejaVu Sans", sans-serif' font-size="12.7" fill="#4c4c4c">850</text>
<text transform="translate(1310.5 1191) rotate(-90)" text-anchor="middle" font-family='"Liberation Sans", "DejaVu Sans", sans-serif' font-size="12.7" fill="#4c4c4c">600</text>
<text transform="translate(1310.5 1289.7) rotate(-90)" text-anchor="middle" font-family='"Liberation Sans", "DejaVu Sans", sans-serif' font-size="12.7" fill="#4c4c4c">400</text>
<text transform="translate(1310.5 1388.5) rotate(-90)" text-anchor="middle" font-family='"Liberation Sans", "DejaVu Sans", sans-serif' font-size="12.7" fill="#4c4c4c">200</text>
<text transform="translate(1310.5 1487.3) rotate(-90)" text-anchor="middle" font-family='"Liberation Sans", "DejaVu Sans", sans-serif' font-size="12.7" fill="#4c4c4c">0</text>
<path d="M1323.7 1488.4v5M1375.55 1488.4v5M1426.2 1488.4v5M1476.85 1488.4v5M1527.5 1488.4v5M1578.15 1488.4v5M1628.8 1488.4v5M1679.45 1488.4v5M1730.1 1488.4v5M1747.1 1488.4v5M1323.7 1066h-5M1323.7 1191h-5M1323.7 1289.7h-5M1323.7 1388.5h-5M1323.7 1487.3h-5M1323.7 1388.5h-5M1323.7 1289.7h-5M1323.7 1190.9h-5M1323.7 1092.1h-5" stroke="#161616" stroke-width="1.3" fill="none"/>
<path d="M1340.15 1488.4v2.6M1349.07 1488.4v2.6M1355.39 1488.4v2.6M1360.3 1488.4v2.6M1364.31 1488.4v2.6M1367.7 1488.4v2.6M1370.64 1488.4v2.6M1373.23 1488.4v2.6M1390.8 1488.4v2.6M1399.72 1488.4v2.6M1406.04 1488.4v2.6M1410.95 1488.4v2.6M1414.96 1488.4v2.6M1418.35 1488.4v2.6M1421.29 1488.4v2.6M1423.88 1488.4v2.6M1441.45 1488.4v2.6M1450.37 1488.4v2.6M1456.69 1488.4v2.6M1461.6 1488.4v2.6M1465.61 1488.4v2.6M1469 1488.4v2.6M1471.94 1488.4v2.6M1474.53 1488.4v2.6M1492.1 1488.4v2.6M1501.02 1488.4v2.6M1507.34 1488.4v2.6M1512.25 1488.4v2.6M1516.26 1488.4v2.6M1519.65 1488.4v2.6M1522.59 1488.4v2.6M1525.18 1488.4v2.6M1542.75 1488.4v2.6M1551.67 1488.4v2.6M1557.99 1488.4v2.6M1562.9 1488.4v2.6M1566.91 1488.4v2.6M1570.3 1488.4v2.6M1573.24 1488.4v2.6M1575.83 1488.4v2.6M1593.4 1488.4v2.6M1602.32 1488.4v2.6M1608.64 1488.4v2.6M1613.55 1488.4v2.6M1617.56 1488.4v2.6M1620.95 1488.4v2.6M1623.89 1488.4v2.6M1626.48 1488.4v2.6M1644.05 1488.4v2.6M1652.97 1488.4v2.6M1659.29 1488.4v2.6M1664.2 1488.4v2.6M1668.21 1488.4v2.6M1671.6 1488.4v2.6M1674.54 1488.4v2.6M1677.13 1488.4v2.6M1694.7 1488.4v2.6M1703.62 1488.4v2.6M1709.94 1488.4v2.6M1714.85 1488.4v2.6M1718.86 1488.4v2.6M1722.25 1488.4v2.6M1725.19 1488.4v2.6M1727.78 1488.4v2.6M1745.35 1488.4v2.6M1323.7 1467.54h-2.6M1323.7 1447.78h-2.6M1323.7 1428.02h-2.6M1323.7 1408.26h-2.6M1323.7 1368.74h-2.6M1323.7 1348.98h-2.6M1323.7 1329.22h-2.6M1323.7 1309.46h-2.6M1323.7 1269.94h-2.6M1323.7 1250.18h-2.6M1323.7 1230.42h-2.6M1323.7 1210.66h-2.6M1323.7 1171.14h-2.6M1323.7 1151.38h-2.6M1323.7 1131.62h-2.6M1323.7 1111.86h-2.6M1323.7 1072.34h-2.6" stroke="#555" stroke-width="1" fill="none"/>
<text x="1533.7" y="1535.4" text-anchor="middle" font-family='"Liberation Sans", "DejaVu Sans", sans-serif' font-size="13.1" fill="#4c4c4c">PE-Texas Red-A</text>
<text transform="translate(1286.9 1278.15) rotate(-90)" text-anchor="middle" font-family='"Liberation Sans", "DejaVu Sans", sans-serif' font-size="12.7" fill="#4c4c4c">Count</text>
<text x="1532.7" y="1057.1" text-anchor="middle" font-family='"Liberation Sans", "DejaVu Sans", sans-serif' font-size="12.7" fill="#4c4c4c">16 / <tspan fill="#f5303a">P1</tspan> / <tspan fill="#2e8b32">P2</tspan></text>
<text x="1751.4" y="1063.8" text-anchor="middle" font-family='"Liberation Sans", "DejaVu Sans", sans-serif' font-weight="bold" font-size="15" fill="#111">!</text>
<text transform="translate(1332.4 1116.3) scale(1.04 1)" font-family='"Liberation Serif", "DejaVu Serif", serif' font-size="74.5" stroke="#0a0202" stroke-width="1.5" stroke-linejoin="round" fill="#0a0202">F</text></g>
<g><path d="M214.4 185.5V169.4M203.5 169.4H225.3" stroke="#000" stroke-width="1.7" fill="none"/>
<rect x="193.1" y="185.45" width="43" height="311.65" fill="#b0f5de" stroke="#000" stroke-width="1.9"/>
<path d="M282.27 322.2V298.8M271.37 298.8H293.17" stroke="#000" stroke-width="1.7" fill="none"/>
<rect x="260.97" y="322.15" width="43" height="174.95" fill="#92bff9" stroke="#000" stroke-width="1.9"/>
<path d="M350.14 286.5V266.7M339.24 266.7H361.04" stroke="#000" stroke-width="1.7" fill="none"/>
<rect x="328.84" y="286.45" width="43" height="210.65" fill="#8f8efc" stroke="#000" stroke-width="1.9"/>
<path d="M418.01 246.9V238M407.11 238H428.91" stroke="#000" stroke-width="1.7" fill="none"/>
<rect x="396.71" y="246.85" width="43" height="250.25" fill="#dc8af8" stroke="#000" stroke-width="1.9"/>
<path d="M485.88 215.7V203.3M474.98 203.3H496.78" stroke="#000" stroke-width="1.7" fill="none"/>
<rect x="464.58" y="215.65" width="43" height="281.45" fill="#f5aae6" stroke="#000" stroke-width="1.9"/>
<path d="M553.75 206.3V189.2M542.85 189.2H564.65" stroke="#000" stroke-width="1.7" fill="none"/>
<rect x="532.45" y="206.25" width="43" height="290.85" fill="#f898c4" stroke="#000" stroke-width="1.9"/>
<path d="M169.2 64.4V499.2M167.1 497.1H602.3" stroke="#000" stroke-width="4.2" fill="none"/>
<path d="M169.2 66.5H187.7" stroke="#000" stroke-width="4.2"/>
<text x="162.1" y="77.9" text-anchor="end" font-family='"Liberation Serif", "DejaVu Serif", serif' font-weight="bold" font-size="32.4">150</text>
<path d="M169.2 209.9H187.7" stroke="#000" stroke-width="4.2"/>
<text x="162.1" y="221.3" text-anchor="end" font-family='"Liberation Serif", "DejaVu Serif", serif' font-weight="bold" font-size="32.4">100</text>
<path d="M169.2 353.5H187.7" stroke="#000" stroke-width="4.2"/>
<text x="162.1" y="364.9" text-anchor="end" font-family='"Liberation Serif", "DejaVu Serif", serif' font-weight="bold" font-size="32.4">50</text>
<text x="163.3" y="508.5" text-anchor="end" font-family='"Liberation Serif", "DejaVu Serif", serif' font-weight="bold" font-size="32.4">0</text>
<path d="M214.2 497.1V515.1" stroke="#000" stroke-width="4.2"/>
<text x="214.2" y="549.8" text-anchor="middle" font-family='"Liberation Serif", "DejaVu Serif", serif' font-weight="bold" font-size="32">A</text>
<path d="M282.07 497.1V515.1" stroke="#000" stroke-width="4.2"/>
<text x="282.07" y="549.8" text-anchor="middle" font-family='"Liberation Serif", "DejaVu Serif", serif' font-weight="bold" font-size="32">B</text>
<path d="M349.94 497.1V515.1" stroke="#000" stroke-width="4.2"/>
<text x="349.94" y="549.8" text-anchor="middle" font-family='"Liberation Serif", "DejaVu Serif", serif' font-weight="bold" font-size="32">C</text>
<path d="M417.81 497.1V515.1" stroke="#000" stroke-width="4.2"/>
<text x="417.81" y="549.8" text-anchor="middle" font-family='"Liberation Serif", "DejaVu Serif", serif' font-weight="bold" font-size="32">D</text>
<path d="M485.68 497.1V515.1" stroke="#000" stroke-width="4.2"/>
<text x="485.68" y="549.8" text-anchor="middle" font-family='"Liberation Serif", "DejaVu Serif", serif' font-weight="bold" font-size="32">E</text>
<path d="M553.55 497.1V515.1" stroke="#000" stroke-width="4.2"/>
<text x="553.55" y="549.8" text-anchor="middle" font-family='"Liberation Serif", "DejaVu Serif", serif' font-weight="bold" font-size="32">F</text>
<text x="279.4" y="296.05" text-anchor="middle" font-family='"Liberation Serif", "DejaVu Serif", serif' font-size="31">**</text>
<text x="349.2" y="254.05" text-anchor="middle" font-family='"Liberation Serif", "DejaVu Serif", serif' font-size="32.5">##</text>
<text x="414" y="224.45" text-anchor="middle" font-family='"Liberation Serif", "DejaVu Serif", serif' font-size="32.5">##</text>
<text x="489.5" y="194.85" text-anchor="middle" font-family='"Liberation Serif", "DejaVu Serif", serif' font-size="32.5">##</text>
<text x="556.8" y="178.55" text-anchor="middle" font-family='"Liberation Serif", "DejaVu Serif", serif' font-size="32.5">##</text>
<text transform="translate(96.7 278.5) rotate(-90)" text-anchor="middle" font-family='"Liberation Serif", "DejaVu Serif", serif' font-weight="bold" font-size="36">SOD (U/mgprot)</text></g>
<g><path d="M213.6 887.9V860.8M202.7 860.8H224.5" stroke="#000" stroke-width="1.7" fill="none"/>
<rect x="192.3" y="887.85" width="43" height="121.05" fill="#b0f5de" stroke="#000" stroke-width="1.9"/>
<path d="M281.45 655.4V635.3M270.55 635.3H292.35" stroke="#000" stroke-width="1.7" fill="none"/>
<rect x="260.15" y="655.35" width="43" height="353.55" fill="#92bff9" stroke="#000" stroke-width="1.9"/>
<path d="M349.3 690.9V675.6M338.4 675.6H360.2" stroke="#000" stroke-width="1.7" fill="none"/>
<rect x="328" y="690.85" width="43" height="318.05" fill="#8f8efc" stroke="#000" stroke-width="1.9"/>
<path d="M417.15 748.2V729.4M406.25 729.4H428.05" stroke="#000" stroke-width="1.7" fill="none"/>
<rect x="395.85" y="748.15" width="43" height="260.75" fill="#dc8af8" stroke="#000" stroke-width="1.9"/>
<path d="M485 805.8V788.4M474.1 788.4H495.9" stroke="#000" stroke-width="1.7" fill="none"/>
<rect x="463.7" y="805.75" width="43" height="203.15" fill="#f5aae6" stroke="#000" stroke-width="1.9"/>
<path d="M552.85 846.5V823.5M541.95 823.5H563.75" stroke="#000" stroke-width="1.7" fill="none"/>
<rect x="531.55" y="846.45" width="43" height="162.45" fill="#f898c4" stroke="#000" stroke-width="1.9"/>
<path d="M168.1 576.2V1011M166 1008.9H602.3" stroke="#000" stroke-width="4.2" fill="none"/>
<path d="M168.1 578.3H186.5" stroke="#000" stroke-width="4.2"/>
<text x="161.5" y="589.7" text-anchor="end" font-family='"Liberation Serif", "DejaVu Serif", serif' font-weight="bold" font-size="32.4">10</text>
<path d="M168.1 664.42H186.5" stroke="#000" stroke-width="4.2"/>
<text x="161.5" y="675.82" text-anchor="end" font-family='"Liberation Serif", "DejaVu Serif", serif' font-weight="bold" font-size="32.4">8</text>
<path d="M168.1 750.54H186.5" stroke="#000" stroke-width="4.2"/>
<text x="161.5" y="761.94" text-anchor="end" font-family='"Liberation Serif", "DejaVu Serif", serif' font-weight="bold" font-size="32.4">6</text>
<path d="M168.1 836.66H186.5" stroke="#000" stroke-width="4.2"/>
<text x="161.5" y="848.06" text-anchor="end" font-family='"Liberation Serif", "DejaVu Serif", serif' font-weight="bold" font-size="32.4">4</text>
<path d="M168.1 922.78H186.5" stroke="#000" stroke-width="4.2"/>
<text x="161.5" y="934.18" text-anchor="end" font-family='"Liberation Serif", "DejaVu Serif", serif' font-weight="bold" font-size="32.4">2</text>
<text x="161" y="1020.3" text-anchor="end" font-family='"Liberation Serif", "DejaVu Serif", serif' font-weight="bold" font-size="32.4">0</text>
<path d="M213.4 1008.9V1026.9" stroke="#000" stroke-width="4.2"/>
<text x="213.4" y="1060.9" text-anchor="middle" font-family='"Liberation Serif", "DejaVu Serif", serif' font-weight="bold" font-size="32">A</text>
<path d="M281.25 1008.9V1026.9" stroke="#000" stroke-width="4.2"/>
<text x="281.25" y="1060.9" text-anchor="middle" font-family='"Liberation Serif", "DejaVu Serif", serif' font-weight="bold" font-size="32">B</text>
<path d="M349.1 1008.9V1026.9" stroke="#000" stroke-width="4.2"/>
<text x="349.1" y="1060.9" text-anchor="middle" font-family='"Liberation Serif", "DejaVu Serif", serif' font-weight="bold" font-size="32">C</text>
<path d="M416.95 1008.9V1026.9" stroke="#000" stroke-width="4.2"/>
<text x="416.95" y="1060.9" text-anchor="middle" font-family='"Liberation Serif", "DejaVu Serif", serif' font-weight="bold" font-size="32">D</text>
<path d="M484.8 1008.9V1026.9" stroke="#000" stroke-width="4.2"/>
<text x="484.8" y="1060.9" text-anchor="middle" font-family='"Liberation Serif", "DejaVu Serif", serif' font-weight="bold" font-size="32">E</text>
<path d="M552.65 1008.9V1026.9" stroke="#000" stroke-width="4.2"/>
<text x="552.65" y="1060.9" text-anchor="middle" font-family='"Liberation Serif", "DejaVu Serif", serif' font-weight="bold" font-size="32">F</text>
<text x="279.3" y="635.45" text-anchor="middle" font-family='"Liberation Serif", "DejaVu Serif", serif' font-size="31">**</text>
<text x="354.5" y="665.55" text-anchor="middle" font-family='"Liberation Serif", "DejaVu Serif", serif' font-size="32.5">##</text>
<text x="419.4" y="708.25" text-anchor="middle" font-family='"Liberation Serif", "DejaVu Serif", serif' font-size="32.5">##</text>
<text x="486.8" y="770.45" text-anchor="middle" font-family='"Liberation Serif", "DejaVu Serif", serif' font-size="32.5">##</text>
<text x="556.6" y="808.25" text-anchor="middle" font-family='"Liberation Serif", "DejaVu Serif", serif' font-size="32.5">##</text>
<text transform="translate(111.3 794.9) rotate(-90)" text-anchor="middle" font-family='"Liberation Serif", "DejaVu Serif", serif' font-weight="bold" font-size="36">MDA (μmol/gprot)</text></g>
<g><path d="M212.5 1164.1V1141M201.6 1141H223.4" stroke="#000" stroke-width="1.7" fill="none"/>
<rect x="191.2" y="1164.05" width="43" height="356.55" fill="#b0f5de" stroke="#000" stroke-width="1.9"/>
<path d="M280.34 1390.1V1370.6M269.44 1370.6H291.24" stroke="#000" stroke-width="1.7" fill="none"/>
<rect x="259.04" y="1390.05" width="43" height="130.55" fill="#92bff9" stroke="#000" stroke-width="1.9"/>
<path d="M348.18 1367.2V1354.7M337.28 1354.7H359.08" stroke="#000" stroke-width="1.7" fill="none"/>
<rect x="326.88" y="1367.15" width="43" height="153.45" fill="#8f8efc" stroke="#000" stroke-width="1.9"/>
<path d="M416.02 1326.5V1314.3M405.12 1314.3H426.92" stroke="#000" stroke-width="1.7" fill="none"/>
<rect x="394.72" y="1326.45" width="43" height="194.15" fill="#dc8af8" stroke="#000" stroke-width="1.9"/>
<path d="M483.86 1270.4V1250.7M472.96 1250.7H494.76" stroke="#000" stroke-width="1.7" fill="none"/>
<rect x="462.56" y="1270.35" width="43" height="250.25" fill="#f5aae6" stroke="#000" stroke-width="1.9"/>
<path d="M551.7 1243.6V1225.6M540.8 1225.6H562.6" stroke="#000" stroke-width="1.7" fill="none"/>
<rect x="530.4" y="1243.55" width="43" height="277.05" fill="#f898c4" stroke="#000" stroke-width="1.9"/>
<path d="M166.9 1088.1V1522.7M164.8 1520.6H601.5" stroke="#000" stroke-width="4.2" fill="none"/>
<path d="M166.9 1090.2H185.4" stroke="#000" stroke-width="4.2"/>
<text x="161" y="1101.6" text-anchor="end" font-family='"Liberation Serif", "DejaVu Serif", serif' font-weight="bold" font-size="32.4">120</text>
<path d="M166.9 1197.8H185.4" stroke="#000" stroke-width="4.2"/>
<text x="161" y="1209.2" text-anchor="end" font-family='"Liberation Serif", "DejaVu Serif", serif' font-weight="bold" font-size="32.4">90</text>
<path d="M166.9 1305.4H185.4" stroke="#000" stroke-width="4.2"/>
<text x="161" y="1316.8" text-anchor="end" font-family='"Liberation Serif", "DejaVu Serif", serif' font-weight="bold" font-size="32.4">60</text>
<path d="M166.9 1413H185.4" stroke="#000" stroke-width="4.2"/>
<text x="161" y="1424.4" text-anchor="end" font-family='"Liberation Serif", "DejaVu Serif", serif' font-weight="bold" font-size="32.4">30</text>
<text x="161" y="1532" text-anchor="end" font-family='"Liberation Serif", "DejaVu Serif", serif' font-weight="bold" font-size="32.4">0</text>
<path d="M212.3 1520.6V1538.6" stroke="#000" stroke-width="4.2"/>
<text x="212.3" y="1572.5" text-anchor="middle" font-family='"Liberation Serif", "DejaVu Serif", serif' font-weight="bold" font-size="32">A</text>
<path d="M280.14 1520.6V1538.6" stroke="#000" stroke-width="4.2"/>
<text x="280.14" y="1572.5" text-anchor="middle" font-family='"Liberation Serif", "DejaVu Serif", serif' font-weight="bold" font-size="32">B</text>
<path d="M347.98 1520.6V1538.6" stroke="#000" stroke-width="4.2"/>
<text x="347.98" y="1572.5" text-anchor="middle" font-family='"Liberation Serif", "DejaVu Serif", serif' font-weight="bold" font-size="32">C</text>
<path d="M415.82 1520.6V1538.6" stroke="#000" stroke-width="4.2"/>
<text x="415.82" y="1572.5" text-anchor="middle" font-family='"Liberation Serif", "DejaVu Serif", serif' font-weight="bold" font-size="32">D</text>
<path d="M483.66 1520.6V1538.6" stroke="#000" stroke-width="4.2"/>
<text x="483.66" y="1572.5" text-anchor="middle" font-family='"Liberation Serif", "DejaVu Serif", serif' font-weight="bold" font-size="32">E</text>
<path d="M551.5 1520.6V1538.6" stroke="#000" stroke-width="4.2"/>
<text x="551.5" y="1572.5" text-anchor="middle" font-family='"Liberation Serif", "DejaVu Serif", serif' font-weight="bold" font-size="32">F</text>
<text x="279.1" y="1345.85" text-anchor="middle" font-family='"Liberation Serif", "DejaVu Serif", serif' font-size="31">**</text>
<text x="345" y="1337.95" text-anchor="middle" font-family='"Liberation Serif", "DejaVu Serif", serif' font-size="34">ns</text>
<text x="413.6" y="1308.45" text-anchor="middle" font-family='"Liberation Serif", "DejaVu Serif", serif' font-size="32.5">##</text>
<text x="486.8" y="1238.25" text-anchor="middle" font-family='"Liberation Serif", "DejaVu Serif", serif' font-size="32.5">##</text>
<text x="551.4" y="1214.25" text-anchor="middle" font-family='"Liberation Serif", "DejaVu Serif", serif' font-size="32.5">##</text>
<text transform="translate(93.7 1305.2) rotate(-90)" text-anchor="middle" font-family='"Liberation Serif", "DejaVu Serif", serif' font-weight="bold" font-size="36">GSH (μmol/gprot)</text></g>
<g><path d="M211.9 1675.4V1647.8M201 1647.8H222.8" stroke="#000" stroke-width="1.7" fill="none"/>
<rect x="190.6" y="1675.35" width="43" height="358" fill="#b0f5de" stroke="#000" stroke-width="1.9"/>
<path d="M279.78 1958.3V1938.7M268.88 1938.7H290.68" stroke="#000" stroke-width="1.7" fill="none"/>
<rect x="258.48" y="1958.25" width="43" height="75.1" fill="#92bff9" stroke="#000" stroke-width="1.9"/>
<path d="M347.66 1899.9V1876.2M336.76 1876.2H358.56" stroke="#000" stroke-width="1.7" fill="none"/>
<rect x="326.36" y="1899.85" width="43" height="133.5" fill="#8f8efc" stroke="#000" stroke-width="1.9"/>
<path d="M415.54 1828V1805.8M404.64 1805.8H426.44" stroke="#000" stroke-width="1.7" fill="none"/>
<rect x="394.24" y="1827.95" width="43" height="205.4" fill="#dc8af8" stroke="#000" stroke-width="1.9"/>
<path d="M483.42 1746.3V1720.4M472.52 1720.4H494.32" stroke="#000" stroke-width="1.7" fill="none"/>
<rect x="462.12" y="1746.25" width="43" height="287.1" fill="#f5aae6" stroke="#000" stroke-width="1.9"/>
<path d="M551.3 1721.2V1698.3M540.4 1698.3H562.2" stroke="#000" stroke-width="1.7" fill="none"/>
<rect x="530" y="1721.15" width="43" height="312.2" fill="#f898c4" stroke="#000" stroke-width="1.9"/>
<path d="M166.5 1600V2035.45M164.4 2033.35H601.5" stroke="#000" stroke-width="4.2" fill="none"/>
<path d="M166.5 1602.1H185" stroke="#000" stroke-width="4.2"/>
<text x="159.8" y="1613.5" text-anchor="end" font-family='"Liberation Serif", "DejaVu Serif", serif' font-weight="bold" font-size="32.4">10000</text>
<path d="M166.5 1688.35H185" stroke="#000" stroke-width="4.2"/>
<text x="159.8" y="1699.75" text-anchor="end" font-family='"Liberation Serif", "DejaVu Serif", serif' font-weight="bold" font-size="32.4">8000</text>
<path d="M166.5 1774.6H185" stroke="#000" stroke-width="4.2"/>
<text x="159.8" y="1786" text-anchor="end" font-family='"Liberation Serif", "DejaVu Serif", serif' font-weight="bold" font-size="32.4">6000</text>
<path d="M166.5 1860.85H185" stroke="#000" stroke-width="4.2"/>
<text x="159.8" y="1872.25" text-anchor="end" font-family='"Liberation Serif", "DejaVu Serif", serif' font-weight="bold" font-size="32.4">4000</text>
<path d="M166.5 1947.1H185" stroke="#000" stroke-width="4.2"/>
<text x="159.8" y="1958.5" text-anchor="end" font-family='"Liberation Serif", "DejaVu Serif", serif' font-weight="bold" font-size="32.4">2000</text>
<text x="159.8" y="2044.75" text-anchor="end" font-family='"Liberation Serif", "DejaVu Serif", serif' font-weight="bold" font-size="32.4">0</text>
<path d="M211.7 2033.35V2051.35" stroke="#000" stroke-width="4.2"/>
<text x="211.7" y="2085.5" text-anchor="middle" font-family='"Liberation Serif", "DejaVu Serif", serif' font-weight="bold" font-size="32">A</text>
<path d="M279.58 2033.35V2051.35" stroke="#000" stroke-width="4.2"/>
<text x="279.58" y="2085.5" text-anchor="middle" font-family='"Liberation Serif", "DejaVu Serif", serif' font-weight="bold" font-size="32">B</text>
<path d="M347.46 2033.35V2051.35" stroke="#000" stroke-width="4.2"/>
<text x="347.46" y="2085.5" text-anchor="middle" font-family='"Liberation Serif", "DejaVu Serif", serif' font-weight="bold" font-size="32">C</text>
<path d="M415.34 2033.35V2051.35" stroke="#000" stroke-width="4.2"/>
<text x="415.34" y="2085.5" text-anchor="middle" font-family='"Liberation Serif", "DejaVu Serif", serif' font-weight="bold" font-size="32">D</text>
<path d="M483.22 2033.35V2051.35" stroke="#000" stroke-width="4.2"/>
<text x="483.22" y="2085.5" text-anchor="middle" font-family='"Liberation Serif", "DejaVu Serif", serif' font-weight="bold" font-size="32">E</text>
<path d="M551.1 2033.35V2051.35" stroke="#000" stroke-width="4.2"/>
<text x="551.1" y="2085.5" text-anchor="middle" font-family='"Liberation Serif", "DejaVu Serif", serif' font-weight="bold" font-size="32">F</text>
<text x="282" y="1923.65" text-anchor="middle" font-family='"Liberation Serif", "DejaVu Serif", serif' font-size="31">**</text>
<text x="349.2" y="1854.25" text-anchor="middle" font-family='"Liberation Serif", "DejaVu Serif", serif' font-size="32.5">##</text>
<text x="413.8" y="1781.65" text-anchor="middle" font-family='"Liberation Serif", "DejaVu Serif", serif' font-size="32.5">##</text>
<text x="484" y="1701.35" text-anchor="middle" font-family='"Liberation Serif", "DejaVu Serif", serif' font-size="32.5">##</text>
<text x="553.9" y="1676.75" text-anchor="middle" font-family='"Liberation Serif", "DejaVu Serif", serif' font-size="32.5">##</text>
<text transform="translate(58.1 1818.2) rotate(-90)" text-anchor="middle" font-family='"Liberation Serif", "DejaVu Serif", serif' font-weight="bold" font-size="36">GSH-Px (μ/mgprot)</text></g>
<g><path d="M1068.8 1972.5V1959.5M1057.9 1959.5H1079.7" stroke="#000" stroke-width="1.7" fill="none"/>
<rect x="1047.5" y="1972.45" width="43" height="65.25" fill="#b0f5de" stroke="#000" stroke-width="1.9"/>
<path d="M1136.72 1684.4V1638.8M1125.82 1638.8H1147.62" stroke="#000" stroke-width="1.7" fill="none"/>
<rect x="1115.42" y="1684.35" width="43" height="353.35" fill="#92bff9" stroke="#000" stroke-width="1.9"/>
<path d="M1204.64 1802.1V1787M1193.74 1787H1215.54" stroke="#000" stroke-width="1.7" fill="none"/>
<rect x="1183.34" y="1802.05" width="43" height="235.65" fill="#8f8efc" stroke="#000" stroke-width="1.9"/>
<path d="M1272.56 1853.3V1816.2M1261.66 1816.2H1283.46" stroke="#000" stroke-width="1.7" fill="none"/>
<rect x="1251.26" y="1853.25" width="43" height="184.45" fill="#dc8af8" stroke="#000" stroke-width="1.9"/>
<path d="M1340.48 1892.8V1870.1M1329.58 1870.1H1351.38" stroke="#000" stroke-width="1.7" fill="none"/>
<rect x="1319.18" y="1892.75" width="43" height="144.95" fill="#f5aae6" stroke="#000" stroke-width="1.9"/>
<path d="M1408.4 1899.9V1861.1M1397.5 1861.1H1419.3" stroke="#000" stroke-width="1.7" fill="none"/>
<rect x="1387.1" y="1899.85" width="43" height="137.85" fill="#f898c4" stroke="#000" stroke-width="1.9"/>
<path d="M1023.7 1604.6V2039.8M1005.2 2037.7H1456.3" stroke="#000" stroke-width="4.2" fill="none"/>
<path d="M1023.7 1606.7H1005.2" stroke="#000" stroke-width="4.2"/>
<text x="1001.5" y="1618.1" text-anchor="end" font-family='"Liberation Serif", "DejaVu Serif", serif' font-weight="bold" font-size="32.4">50000</text>
<path d="M1023.7 1692.9H1005.2" stroke="#000" stroke-width="4.2"/>
<text x="1001.5" y="1704.3" text-anchor="end" font-family='"Liberation Serif", "DejaVu Serif", serif' font-weight="bold" font-size="32.4">40000</text>
<path d="M1023.7 1779.1H1005.2" stroke="#000" stroke-width="4.2"/>
<text x="1001.5" y="1790.5" text-anchor="end" font-family='"Liberation Serif", "DejaVu Serif", serif' font-weight="bold" font-size="32.4">30000</text>
<path d="M1023.7 1865.3H1005.2" stroke="#000" stroke-width="4.2"/>
<text x="1001.5" y="1876.7" text-anchor="end" font-family='"Liberation Serif", "DejaVu Serif", serif' font-weight="bold" font-size="32.4">20000</text>
<path d="M1023.7 1951.5H1005.2" stroke="#000" stroke-width="4.2"/>
<text x="1001.5" y="1962.9" text-anchor="end" font-family='"Liberation Serif", "DejaVu Serif", serif' font-weight="bold" font-size="32.4">10000</text>
<path d="M1023.7 2037.7H1005.2" stroke="#000" stroke-width="4.2"/>
<text x="1001.5" y="2049.1" text-anchor="end" font-family='"Liberation Serif", "DejaVu Serif", serif' font-weight="bold" font-size="32.4">0</text>
<path d="M1068.6 2037.7V2055.7" stroke="#000" stroke-width="4.2"/>
<text x="1068.6" y="2089.8" text-anchor="middle" font-family='"Liberation Serif", "DejaVu Serif", serif' font-weight="bold" font-size="32">A</text>
<path d="M1136.52 2037.7V2055.7" stroke="#000" stroke-width="4.2"/>
<text x="1136.52" y="2089.8" text-anchor="middle" font-family='"Liberation Serif", "DejaVu Serif", serif' font-weight="bold" font-size="32">B</text>
<path d="M1204.44 2037.7V2055.7" stroke="#000" stroke-width="4.2"/>
<text x="1204.44" y="2089.8" text-anchor="middle" font-family='"Liberation Serif", "DejaVu Serif", serif' font-weight="bold" font-size="32">C</text>
<path d="M1272.36 2037.7V2055.7" stroke="#000" stroke-width="4.2"/>
<text x="1272.36" y="2089.8" text-anchor="middle" font-family='"Liberation Serif", "DejaVu Serif", serif' font-weight="bold" font-size="32">D</text>
<path d="M1340.28 2037.7V2055.7" stroke="#000" stroke-width="4.2"/>
<text x="1340.28" y="2089.8" text-anchor="middle" font-family='"Liberation Serif", "DejaVu Serif", serif' font-weight="bold" font-size="32">E</text>
<path d="M1408.2 2037.7V2055.7" stroke="#000" stroke-width="4.2"/>
<text x="1408.2" y="2089.8" text-anchor="middle" font-family='"Liberation Serif", "DejaVu Serif", serif' font-weight="bold" font-size="32">F</text>
<text x="1135.2" y="1625.75" text-anchor="middle" font-family='"Liberation Serif", "DejaVu Serif", serif' font-size="31">**</text>
<text x="1202.5" y="1773.55" text-anchor="middle" font-family='"Liberation Serif", "DejaVu Serif", serif' font-size="32.5">##</text>
<text x="1272.3" y="1806.15" text-anchor="middle" font-family='"Liberation Serif", "DejaVu Serif", serif' font-size="32.5">##</text>
<text x="1337.4" y="1848.75" text-anchor="middle" font-family='"Liberation Serif", "DejaVu Serif", serif' font-size="32.5">##</text>
<text x="1404.4" y="1854.35" text-anchor="middle" font-family='"Liberation Serif", "DejaVu Serif", serif' font-size="32.5">##</text>
<text transform="translate(898.4 1823.2) rotate(-90)" text-anchor="middle" font-family='"Liberation Serif", "DejaVu Serif", serif' font-weight="bold" font-size="36">Relative expression of ROS</text></g>
<text x="2.5" y="80.9" font-family='"Liberation Serif", "DejaVu Serif", serif' font-size="74" font-weight="bold" stroke="#000" stroke-width="0" letter-spacing="0.6">(a)</text>
<text x="585.5" y="78.4" font-family='"Liberation Serif", "DejaVu Serif", serif' font-size="74" font-weight="bold" stroke="#000" stroke-width="0" letter-spacing="0.3">(b)</text>
<text x="750.6" y="1664.5" font-family='"Liberation Serif", "DejaVu Serif", serif' font-size="74" font-weight="bold" stroke="#000" stroke-width="0" letter-spacing="1.2">(c)</text>
</svg></body></html>
